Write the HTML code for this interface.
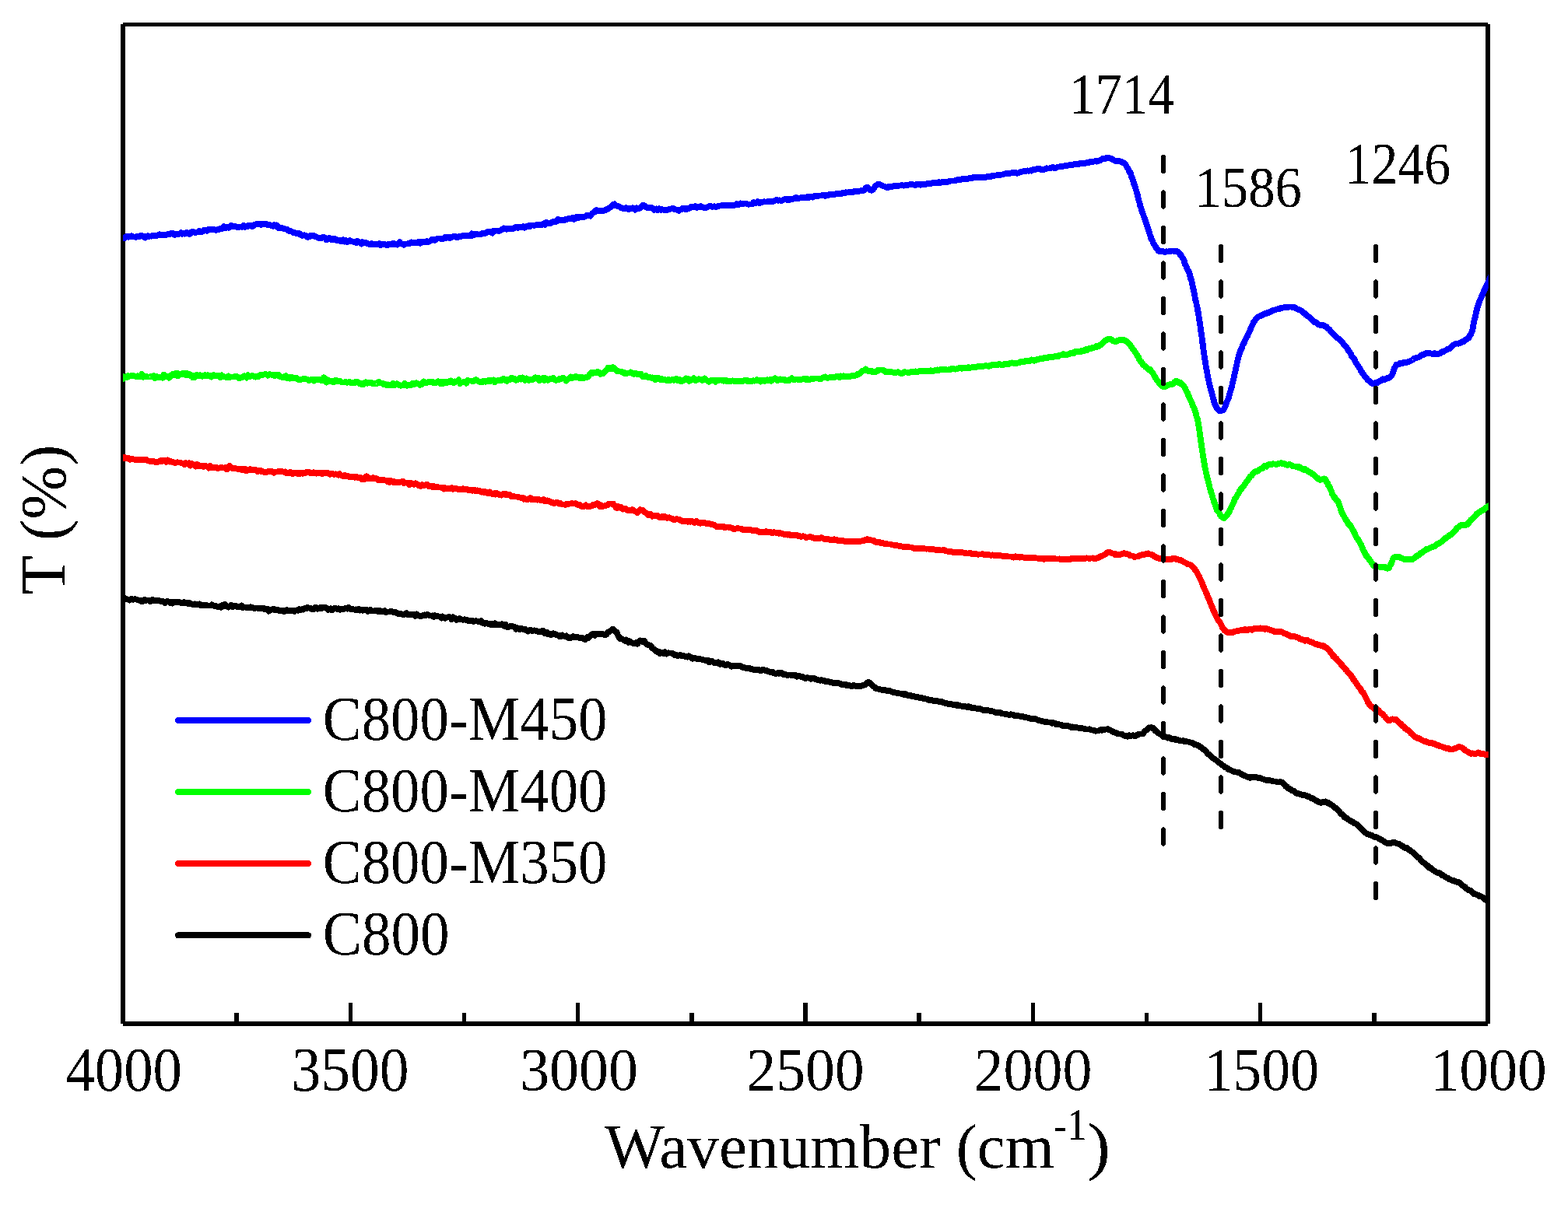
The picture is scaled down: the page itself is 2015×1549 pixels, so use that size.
<!DOCTYPE html>
<html><head><meta charset="utf-8"><title>FTIR spectra</title>
<style>
html,body{margin:0;padding:0;background:#fff;}
body{width:2015px;height:1549px;overflow:hidden;}
svg{display:block;}
</style></head>
<body>
<svg width="2015" height="1549" viewBox="0 0 2015 1549" shape-rendering="crispEdges">
<rect x="0" y="0" width="2015" height="1549" fill="#fff"/>
<filter id="crisp" x="-5%" y="-20%" width="110%" height="140%"><feComponentTransfer><feFuncA type="discrete" tableValues="0 1"/></feComponentTransfer></filter>
<rect x="158" y="29" width="1754" height="5" fill="#000"/>
<rect x="158" y="1313" width="1754" height="6" fill="#000"/>
<rect x="155" y="31" width="6" height="1285" fill="#000"/>
<rect x="1909" y="31" width="6" height="1285" fill="#000"/>
<rect x="1763" y="1302" width="5.6" height="12" fill="#000"/>
<rect x="1617.1" y="1289" width="5.2" height="25" fill="#000"/>
<rect x="1470.7" y="1302" width="5.6" height="12" fill="#000"/>
<rect x="1324.7" y="1289" width="5.2" height="25" fill="#000"/>
<rect x="1178.4" y="1302" width="5.6" height="12" fill="#000"/>
<rect x="1032.4" y="1289" width="5.2" height="25" fill="#000"/>
<rect x="886" y="1302" width="5.6" height="12" fill="#000"/>
<rect x="740.1" y="1289" width="5.2" height="25" fill="#000"/>
<rect x="593.7" y="1302" width="5.6" height="12" fill="#000"/>
<rect x="447.7" y="1289" width="5.2" height="25" fill="#000"/>
<rect x="301.4" y="1302" width="5.6" height="12" fill="#000"/>
<clipPath id="plotclip"><rect x="158" y="0" width="1754.7" height="1549"/></clipPath>
<g clip-path="url(#plotclip)">
<path d="M155 768.6 L158 769 L159.1 769.5 L160.3 769 L161.8 769.7 L163.3 770.5 L165 770.5 L166.8 771.6 L168.7 770 L170.7 770.7 L172.7 770.3 L174.8 770.4 L176.2 770.9 L177.7 771.4 L179.2 771.8 L180.8 772 L182.5 773.5 L184.1 772.8 L185.8 770.8 L187.6 771.9 L189.3 771.5 L191 771.6 L192.8 773.1 L194.5 772.3 L196.2 770.8 L197.9 772.4 L199.6 772.4 L201.3 771.7 L203 771.9 L204.7 772.3 L206.5 773 L208.3 772.9 L210.1 773.4 L211.8 775 L213.6 773.4 L215.3 773.1 L217 773.7 L218.6 774.9 L220.2 773.8 L221.6 775.4 L223.1 773.6 L224.4 773.5 L226.7 774.3 L228.7 773.8 L230.5 773.9 L232.1 774.7 L233.6 775 L235.1 774.6 L236.6 774.2 L238.1 775.5 L239.7 775.2 L241.1 774.9 L242.4 776.3 L243.7 775.1 L245.2 776.1 L247 776.9 L249.3 776.8 L250.6 776.4 L251.9 777.2 L253.4 776.7 L254.9 776.7 L256.6 776.4 L258.2 778.3 L260 777.4 L261.7 778.6 L263.5 778.3 L265.3 777.9 L267.1 778.6 L268.9 778.5 L270.7 778.5 L272.4 777.3 L274.1 778.3 L275.8 779.3 L277.4 779.2 L279.1 779.6 L280.7 780.2 L282.4 779.4 L284 780.6 L285.7 778.1 L287.3 778.6 L289 776.9 L290.6 779.3 L292.3 779.3 L293.9 780.6 L295.6 779.2 L297.2 777.7 L298.9 780.1 L300.6 778.6 L302.2 778.4 L303.9 779.3 L305.5 780.2 L307.2 779.5 L308.8 780.1 L310.5 778.6 L312.1 781.3 L313.8 780.5 L315.4 780.5 L317.1 781 L318.7 780.9 L320.4 781 L322 780.2 L323.7 780.8 L325.4 781.4 L327 782.2 L328.7 781.5 L330.3 781.6 L332 782 L333.6 782.3 L335.3 782.2 L336.9 782 L338.6 781.8 L340.2 783.2 L341.9 783 L343.5 782.8 L345.2 785.6 L346.8 784.2 L348.5 784 L350.2 783.5 L351.8 782.6 L353.5 784.3 L355.1 783.8 L356.8 783.9 L358.4 784.8 L360.1 785.1 L361.7 784.7 L363.4 784.5 L365 786.2 L366.7 785.4 L368.3 784 L370 785.2 L371.6 784.9 L373.3 784.8 L374.9 785.2 L376.6 784.8 L378.2 786 L379.9 784.7 L381.5 784.3 L383.1 784.7 L384.8 783.2 L386.4 784 L388 783.1 L389.7 783.7 L391.4 782 L393 782.6 L394.7 780.9 L396.4 781.4 L398.1 781.8 L399.7 782.2 L401.4 783.4 L403 783.6 L404.7 781.1 L406.4 781 L408.1 782.7 L409.8 782.4 L411.4 780.9 L413.1 782.1 L414.8 781.1 L416.5 781.2 L418.2 780.9 L419.9 781.7 L421.5 783.9 L423.2 782.9 L424.8 782.3 L426.5 784.4 L428.2 782.4 L429.9 782.3 L431.5 782.2 L433.2 782.7 L434.9 782.3 L436.5 783.7 L438.1 782.6 L439.8 783.1 L441.4 782.9 L443 782.1 L444.7 781.9 L446.3 782.6 L448 781 L449.6 782.6 L451.3 783.1 L452.9 783.3 L454.6 783.3 L456.2 783.8 L457.9 783.4 L459.5 784.3 L461.2 782.7 L462.8 784.6 L464.5 783.7 L466.1 784.7 L467.8 784.3 L469.4 784.3 L471.1 784.1 L472.7 785.9 L474.4 784.4 L476.1 784.1 L477.7 785.2 L479.4 785.6 L481 785.5 L482.7 784.7 L484.4 784.9 L486 786.2 L487.7 784.9 L489.3 786 L491 786.4 L492.7 786.1 L494.3 785 L496 787.4 L497.6 786.5 L499.3 786.5 L501 786.2 L502.6 785.9 L504.3 786.5 L505.9 787.2 L507.6 786.7 L509.2 787.6 L510.9 788.8 L512.5 788.7 L514.2 788.5 L515.8 789.5 L517.5 789.9 L519.1 790.1 L520.8 789 L522.4 788.1 L524.1 790.1 L525.8 790.1 L527.4 789.8 L529.1 790.5 L530.7 790 L532.4 789.9 L534 791.8 L535.7 789.6 L537.3 791.1 L539 791.6 L540.6 792.4 L542.3 791.4 L543.9 791.5 L545.6 790.4 L547.2 791.1 L548.9 789.6 L550.6 790.6 L552.2 791.4 L553.9 791.6 L555.5 791.4 L557.2 792.8 L558.8 791 L560.5 792.2 L562.1 792.1 L563.8 792.6 L565.4 792.8 L567.1 794.5 L568.7 792.6 L570.4 794.3 L572 794.8 L573.7 793.9 L575.4 793.4 L577 793 L578.7 793.4 L580.3 796 L582 793.4 L583.6 795.1 L585.3 794.7 L586.9 796.9 L588.6 796.3 L590.2 795 L591.9 795.6 L593.5 796.5 L595.2 796.8 L596.8 796.2 L598.5 796.8 L600.2 797 L601.8 798 L603.5 798.2 L605.1 798.3 L606.8 797.9 L608.4 799.1 L610.1 798.4 L611.7 798.2 L613.4 798.7 L615 799.1 L616.7 799.3 L618.3 798.3 L620 800.9 L621.6 801 L623.3 801.8 L624.9 800.8 L626.6 801.7 L628.2 801.6 L629.9 801.7 L631.5 803.3 L633.1 802 L634.8 802.9 L636.4 801.4 L638 803.2 L639.7 803.2 L641.4 802.7 L643 803.2 L644.7 802.3 L646.4 803.2 L648.1 804.6 L649.7 802.9 L651.4 805.7 L653 806.4 L654.7 805.4 L656.4 804.8 L658.1 805 L659.8 805.4 L661.5 806.1 L663.1 808.8 L664.8 807 L666.5 808.3 L668.2 809.2 L669.9 807.9 L671.5 808.4 L673.2 809.4 L674.8 808.8 L676.5 810.4 L678.2 811.6 L679.9 810.3 L681.5 809.6 L683.2 810.7 L684.9 810.9 L686.5 810.3 L688.1 810.8 L689.8 811.2 L691.4 811.8 L693 812.6 L694.7 811.7 L696.3 811 L698 810.8 L699.6 813.8 L701.3 812.8 L702.9 812.8 L704.6 815.4 L706.2 815.1 L707.9 816.2 L709.5 814.8 L711.2 814.3 L712.8 814.6 L714.5 815.9 L716.1 816.3 L717.8 816.6 L719.4 818.4 L721.1 818.2 L722.7 816.5 L724.4 817.5 L726.1 818.1 L727.8 817.3 L729.6 819.8 L731.4 819.4 L733.2 820 L735.1 818.6 L736.9 818.1 L738.6 819.6 L740.4 819.3 L742.1 819.1 L743.7 819.6 L745.3 820 L746.7 820.1 L748.1 819.8 L749.3 820.3 L751.9 822.2 L753.8 820.8 L755.4 818.7 L756.7 819.8 L758.1 817.6 L759.6 815.9 L761.3 815.5 L763 814.6 L764.7 816.8 L766.4 815.2 L768 814.5 L769.5 815 L771.7 815.5 L773.8 815 L775.8 815.6 L777.4 816.1 L779.4 815.6 L781 812.8 L782.2 812.8 L783.6 811.5 L785.1 810.6 L786.4 809.2 L788 808.6 L789.5 810.9 L791 812.1 L792 812.2 L793 813.4 L793.9 816 L795 818.7 L796.1 818.8 L797.2 821.3 L798.4 820.9 L800 821.6 L801.3 822.4 L802.7 823.7 L804.3 822.5 L805.9 824.2 L807.6 825.9 L809.2 824.4 L810.8 825.7 L812.5 826.5 L814.3 827.5 L816 827.6 L817.6 826.3 L819.1 827.6 L821.1 824.9 L822.9 823.4 L824.7 824.7 L826.5 824.6 L827.9 823.8 L829.3 826.2 L830.8 827.6 L832.3 828.9 L834 829.4 L835.2 829.5 L836.4 830.1 L837.7 832.3 L839.1 833.7 L840.4 834.6 L841.9 835.6 L843.4 837.6 L844.9 837.1 L846.5 837.7 L848 840.1 L849.6 838.8 L851.3 838.7 L853 840 L854.8 838.3 L856.8 840.6 L858.8 839.3 L860.2 839.5 L861.8 839.4 L863.4 839.9 L865 840.3 L866.7 841.9 L868.4 841.7 L870.1 842.9 L871.9 843 L873.6 841.8 L875.3 842.8 L877 842.7 L878.7 843.1 L880.3 843.8 L881.9 844.3 L883.5 844.7 L885.1 843.2 L886.6 844.5 L888.2 844.8 L889.8 846.7 L891.4 845.9 L893.1 846.1 L894.8 846.4 L896.6 847.3 L898.5 846.5 L900 847.3 L901.5 847.7 L903.1 848.2 L904.7 848.4 L906.3 848.6 L908 849.4 L909.6 848.9 L911.3 851.1 L913 850.8 L914.8 849.9 L916.5 851 L918.2 852.3 L919.9 852.2 L921.5 852.4 L923.2 851.4 L924.8 853.8 L926.5 853.7 L928.2 852.6 L929.9 853.5 L931.5 855.1 L933.2 854.9 L934.8 853.9 L936.5 854.4 L938.1 855.2 L939.8 856.7 L941.4 856 L943 856.3 L944.7 855.9 L946.3 856.2 L947.9 855.8 L949.6 855.8 L951.3 855.9 L952.9 856.6 L954.6 858.1 L956.2 857.8 L957.9 858.7 L959.5 858.8 L961.2 858.7 L962.8 858.5 L964.5 860.2 L966.1 860.1 L967.8 860.4 L969.4 861.4 L971.1 861.2 L972.7 860.7 L974.4 860.9 L976.1 861.3 L977.7 862.5 L979.4 861.2 L981 860.7 L982.7 861.6 L984.4 862.3 L986 862.3 L987.7 863.4 L989.3 863.7 L991 863.6 L992.7 863.9 L994.3 865.2 L996 865.7 L997.6 865.9 L999.3 865 L1001 865.9 L1002.6 865 L1004.3 864.7 L1005.9 866.7 L1007.6 866.9 L1009.2 867 L1010.9 867.6 L1012.5 868 L1014.2 867.5 L1015.8 867.6 L1017.5 868 L1019.1 868.4 L1020.8 868.4 L1022.4 867.8 L1024.1 869.8 L1025.8 868.8 L1027.4 869 L1029.1 869.8 L1030.7 869.9 L1032.4 870.5 L1034 871.8 L1035.7 871.8 L1037.3 871.1 L1039 871.6 L1040.6 871.8 L1042.3 872.7 L1043.9 872.2 L1045.6 872.3 L1047.2 872.2 L1048.9 873.5 L1050.6 873.9 L1052.2 874.4 L1053.9 874.8 L1055.5 874.2 L1057.2 874.7 L1058.8 874.7 L1060.5 876 L1062.1 876.4 L1063.8 875.7 L1065.4 876.7 L1067.1 876.9 L1068.7 877.2 L1070.4 877.8 L1072 877.5 L1073.7 877.8 L1075.4 878 L1077.1 878.3 L1078.9 878.4 L1080.7 879.6 L1082.5 879.9 L1084.4 879.8 L1086.2 879.5 L1087.9 881.3 L1089.7 880.9 L1091.4 881.2 L1093 881.6 L1094.5 882.3 L1096 881.7 L1097.3 880.9 L1098.5 881.7 L1101.5 882.2 L1103.6 882 L1105.3 882.6 L1106.6 881.7 L1108 881.6 L1110.1 880.5 L1111.6 880.2 L1113 878.8 L1114.6 877.7 L1116 876.6 L1117.1 877.3 L1118.2 878.8 L1119.5 879.4 L1120.9 880.9 L1122.4 882.5 L1124 883.4 L1125.3 884.8 L1126.7 885.4 L1129.5 885.6 L1130.7 886.5 L1132 886.4 L1133.4 887 L1135 887.6 L1136.6 887.1 L1138.4 887.4 L1140.2 888.1 L1142.1 888.4 L1144 888.3 L1146.1 889.5 L1148.1 889.9 L1149.5 890.2 L1150.9 890.5 L1152.4 891 L1153.9 890.8 L1155.4 891.4 L1157 891.5 L1158.6 891.8 L1160.2 892 L1161.9 893.1 L1163.5 892.2 L1165.2 892.9 L1166.8 893.9 L1168.5 894 L1170.1 894.1 L1171.7 895.1 L1173.3 894.8 L1174.8 895.2 L1176.5 895.9 L1178.2 895.9 L1179.9 896.2 L1181.5 896.8 L1183.2 897.6 L1184.9 897.2 L1186.5 898 L1188.1 898.2 L1189.8 898.4 L1191.4 898.4 L1193 899.8 L1194.7 899.9 L1196.3 900.1 L1198 900.2 L1199.6 901.2 L1201.3 900.8 L1202.9 900.8 L1204.6 901.2 L1206.2 901.8 L1207.9 902.4 L1209.5 901.8 L1211.2 902.9 L1212.8 903.3 L1214.5 904 L1216.1 903.8 L1217.8 904.8 L1219.4 905.4 L1221.1 904.8 L1222.7 905 L1224.4 905.8 L1226.1 906.3 L1227.7 906.1 L1229.4 906.8 L1231 906.1 L1232.7 907.1 L1234.4 907.4 L1236 907.8 L1237.7 908 L1239.3 908.3 L1241 908.2 L1242.7 909.1 L1244.3 908.1 L1246 909.1 L1247.6 909.2 L1249.3 910.4 L1251 909.7 L1252.6 910.3 L1254.3 910.6 L1255.9 911.2 L1257.6 911.3 L1259.2 911.1 L1260.9 911.7 L1262.5 912.6 L1264.2 912.9 L1265.8 912.6 L1267.5 912.6 L1269.1 912.8 L1270.8 913.5 L1272.4 913.9 L1274.1 914.1 L1275.8 914.4 L1277.4 914.9 L1279.1 915.7 L1280.7 916 L1282.4 915.7 L1284 916.3 L1285.7 916.3 L1287.3 917.1 L1289 917.4 L1290.6 917.6 L1292.3 918.4 L1293.9 918.3 L1295.6 918.5 L1297.2 919 L1298.9 918.3 L1300.6 918.7 L1302.2 919.1 L1303.9 919.9 L1305.5 920 L1307.2 919.7 L1308.8 920.2 L1310.5 920.7 L1312.1 921 L1313.8 921.4 L1315.4 921.3 L1317.1 922.2 L1318.7 922.1 L1320.4 922.7 L1322 923 L1323.7 923.4 L1325.4 924.5 L1327 924.2 L1328.7 924.4 L1330.3 923.9 L1332 924.7 L1333.6 925.6 L1335.3 925.8 L1336.9 926.6 L1338.6 926.6 L1340.2 927.3 L1341.9 927.5 L1343.5 928.1 L1345.2 927.9 L1346.8 928.6 L1348.5 928.5 L1350.2 928.6 L1351.8 929.7 L1353.5 929.1 L1355.1 929.5 L1356.8 930.9 L1358.4 930.8 L1360.1 931.1 L1361.7 931.4 L1363.4 931.6 L1365 932.7 L1366.7 932.5 L1368.3 933.2 L1370 933 L1371.6 933 L1373.3 933.4 L1375 933.8 L1376.7 935.1 L1378.4 934.4 L1380.2 934.9 L1382 934.4 L1383.7 935.4 L1385.5 935.5 L1387.2 936 L1388.9 936.2 L1390.6 936.2 L1392.2 936.6 L1393.8 936.9 L1395.3 937.5 L1396.8 937.4 L1398.1 937.5 L1400.2 937.3 L1402 938.4 L1403.8 938.5 L1405.3 938.4 L1406.8 939.4 L1408.3 939.7 L1409.6 939.5 L1411 939.5 L1412.4 939 L1414.1 938.3 L1415.8 938.8 L1417.3 937.8 L1418.8 938.1 L1420.3 937.4 L1421.9 937.4 L1423.6 937.2 L1425 937.9 L1426.4 938.6 L1427.8 939.1 L1429.2 940.1 L1430.7 941 L1432.2 941.5 L1433.8 941.7 L1435.5 943.2 L1437.2 943.4 L1438.7 943.5 L1440.4 943.5 L1442.1 943.8 L1443.9 945.4 L1445.7 946.1 L1447.5 946.2 L1449.3 946.7 L1451 945.3 L1452.7 946.2 L1454.3 945.5 L1455.8 945.3 L1457.7 946 L1459.4 946 L1461 945 L1462.5 944.2 L1463.9 943.6 L1465.3 943.6 L1466.7 943.5 L1468.2 943.5 L1469.6 942.1 L1471 940.4 L1472.4 939 L1473.7 938.2 L1475.1 937.3 L1476.5 935.4 L1477.9 935.6 L1479.4 935.2 L1480.6 936.1 L1481.9 935.8 L1483.1 937.5 L1484.4 938.9 L1485.7 940.2 L1487.1 941.5 L1488.5 942.2 L1489.9 943.2 L1491.4 943.8 L1493 945 L1494.4 945.4 L1495.8 946.5 L1497.3 947.2 L1498.9 947.4 L1500.4 948.6 L1502 948 L1503.7 948.6 L1505.3 950 L1506.9 949.8 L1508.5 950.5 L1510.1 949.6 L1511.7 951.4 L1513.4 951.2 L1515.2 951.5 L1516.9 952.5 L1518.7 952.5 L1520.5 952.1 L1522.3 953.4 L1524 953 L1525.7 953.4 L1527.3 953.6 L1528.8 954.1 L1530.3 954.5 L1532.1 955 L1533.8 955.5 L1535.4 957.2 L1536.9 957.2 L1538.3 957.8 L1539.7 958 L1541.2 959.7 L1542.7 960.3 L1543.9 961 L1545.2 961.7 L1546.4 963.3 L1547.7 963.6 L1548.9 965.1 L1550.1 966.5 L1551.4 968.1 L1552.6 969.3 L1553.9 969.8 L1555.1 971.6 L1556.5 972.5 L1557.9 973.5 L1559.2 974.8 L1560.6 975.7 L1562 976.6 L1563.4 977.6 L1564.7 979 L1566.1 979.9 L1567.5 980.9 L1568.9 981.6 L1570.3 983.3 L1571.6 984 L1573 984.7 L1574.4 986.3 L1575.8 986.5 L1577.1 987.5 L1578.5 989 L1579.9 989.4 L1581.5 990.1 L1583 990.7 L1584.6 991.4 L1586.1 992 L1587.7 992.6 L1589.2 992.5 L1590.8 993 L1592.3 993 L1593.8 994.1 L1595.4 995.2 L1597 995.9 L1598.5 997.1 L1600 997.3 L1601.6 998.1 L1603.1 998.9 L1604.7 998.6 L1606.4 999.8 L1608.1 999 L1609.7 999.3 L1611.4 998.8 L1613.1 999.3 L1615 999.3 L1617.1 1000.3 L1618.6 999.5 L1620.2 1000.6 L1621.9 1001.2 L1623.7 1001.7 L1625.5 1002.3 L1627.3 1002.8 L1629.1 1002.5 L1630.9 1003.5 L1632.6 1003.4 L1634.2 1003.7 L1635.7 1004.2 L1637.9 1004.5 L1639.9 1004.7 L1641.8 1005.6 L1643.6 1005.5 L1645.2 1004.9 L1646.7 1005.5 L1648.1 1006.1 L1649.6 1008.1 L1650.5 1008.6 L1651.3 1009.4 L1652.3 1011 L1653.9 1011.3 L1655.1 1013.4 L1656.4 1013.8 L1657.9 1014.4 L1659.5 1015.9 L1661.2 1016.3 L1662.9 1017 L1664.6 1018.6 L1666.2 1020 L1667.8 1019.9 L1669.3 1020.5 L1670.9 1020.9 L1672.4 1021.6 L1674 1021.7 L1675.5 1022.2 L1677.1 1022.2 L1678.6 1022.8 L1680.2 1023.7 L1681.7 1023.5 L1683.3 1024.9 L1684.9 1026.2 L1686.5 1026.2 L1688.1 1027.1 L1689.7 1028.2 L1691.3 1029.1 L1692.8 1029.4 L1694.2 1030.7 L1695.6 1031.3 L1697.4 1031.8 L1699.1 1031.6 L1700.6 1030.8 L1702.1 1030.6 L1703.7 1030.4 L1705.3 1032 L1706.6 1031.6 L1707.9 1032.6 L1709.2 1033.8 L1710.6 1034.2 L1712 1035.3 L1713.4 1036.5 L1714.9 1038.3 L1716.4 1038.6 L1717.6 1040 L1718.8 1041.2 L1720 1042.5 L1721.2 1043.2 L1722.5 1045.1 L1723.8 1046.4 L1725.1 1047.1 L1726.4 1048.2 L1727.7 1050.6 L1729 1051 L1730.3 1051.5 L1731.7 1053.2 L1733.1 1053.6 L1734.6 1054.8 L1736 1055.9 L1737.4 1056.2 L1738.8 1056.6 L1740.2 1058.6 L1741.6 1058.4 L1742.9 1059.1 L1744.2 1060.4 L1745.5 1061.7 L1746.7 1062.7 L1747.9 1063.5 L1749 1065.3 L1750.1 1065.8 L1751.3 1067 L1752.5 1068.7 L1753.8 1070 L1755.3 1070.9 L1756.6 1071.8 L1758.1 1072.3 L1759.6 1073.2 L1761.2 1073.3 L1762.8 1073.8 L1764.5 1074.9 L1766.1 1075.8 L1767.7 1075.9 L1769.2 1076.3 L1770.7 1077.1 L1772 1078.2 L1773.9 1078.9 L1775.6 1079.8 L1777.2 1080.8 L1778.7 1081.8 L1780.2 1083 L1781.6 1083.4 L1783.1 1084.1 L1784.8 1084.2 L1786.3 1083.8 L1787.8 1083.7 L1789.4 1083.4 L1791 1082.5 L1792.9 1083.4 L1794.3 1083.9 L1795.8 1084.4 L1797.3 1084.7 L1799 1085.6 L1800.6 1087 L1802.2 1087.4 L1803.8 1088.9 L1805.4 1089.4 L1806.8 1090.4 L1808.3 1090 L1809.6 1091.9 L1810.9 1092.7 L1812.2 1092.8 L1813.5 1094.5 L1814.8 1095.1 L1816.3 1095.9 L1817.9 1098.1 L1818.9 1099.2 L1820 1100.1 L1821.2 1101.1 L1822.3 1102.4 L1823.6 1102.5 L1824.8 1104.2 L1826.1 1106.1 L1827.4 1107.2 L1828.6 1108.3 L1829.9 1109.3 L1831.1 1110.5 L1832.3 1111.4 L1833.5 1112.7 L1834.6 1112.6 L1836.1 1115 L1837.5 1116 L1839 1115.7 L1840.3 1117.5 L1841.7 1118.6 L1843 1119.2 L1844.3 1120.3 L1845.7 1121.1 L1847 1121.8 L1848.4 1121.7 L1849.9 1122.2 L1851.5 1123.6 L1853 1125.3 L1854.6 1125.2 L1856.1 1126.5 L1857.7 1127.4 L1859.2 1128.4 L1860.8 1128.6 L1862.3 1130.1 L1863.8 1130.6 L1865.4 1131.6 L1866.9 1131.8 L1868.5 1132.2 L1870 1133 L1871.6 1133.7 L1873.1 1134 L1874.7 1134.2 L1876.2 1135.3 L1877.5 1136.4 L1878.7 1137.3 L1880 1138.6 L1881.3 1139.5 L1882.5 1139.9 L1883.8 1141.9 L1885 1142.5 L1886.3 1143.5 L1887.6 1144.3 L1888.8 1144.7 L1890.1 1145.1 L1891.7 1147.1 L1893.3 1148.3 L1894.9 1149.5 L1896.6 1149.4 L1898.2 1150.3 L1899.8 1150.9 L1901.3 1152.1 L1902.7 1152.3 L1904 1152.9 L1905.8 1153.7 L1907.4 1155.2 L1908.9 1156.7 L1910.2 1156.9 L1911.4 1157.8 L1912.5 1159.3 L1914.8 1160.1 L1916 1161.1" fill="none" stroke="#000" stroke-width="7.8" stroke-linejoin="round" stroke-linecap="butt" shape-rendering="crispEdges"/>
<path d="M155 587.6 L158 588.1 L159.1 589.2 L160.3 587.8 L161.8 589.3 L163.3 588.7 L165 588.8 L166.8 590.8 L168.7 590 L170.7 590 L172.7 590.8 L174.8 591.5 L176.2 590.9 L177.8 591.4 L179.4 590.5 L181 591 L182.7 591.2 L184.5 590.8 L186.3 590.8 L188.1 590.9 L189.8 592.2 L191.6 592.7 L193.3 592.9 L195 593.4 L196.6 592.5 L198.1 593.4 L199.6 593.9 L201.6 594.5 L203.5 593.3 L205.3 593.4 L207 592 L208.6 592.8 L210.2 591.5 L211.8 591.7 L213.5 593.7 L215.2 591.5 L217 593.5 L218.5 593.7 L220.1 593.3 L221.7 594 L223.2 594.4 L224.8 595.2 L226.4 594.5 L228.1 594.3 L229.7 594.6 L231.4 594.5 L233.2 595.5 L235 595.4 L236.8 597 L238.3 595.2 L239.9 595.6 L241.5 595.9 L243.1 595.3 L244.7 598.5 L246.4 595.9 L248.1 597.2 L249.8 597.5 L251.5 599.4 L253.2 597.1 L254.9 599.2 L256.6 598.4 L258.3 598.8 L260 598.6 L261.7 599.8 L263.4 598.7 L265 599.5 L266.7 600.1 L268.3 601.6 L270 598.6 L271.6 601.3 L273.3 601.5 L274.9 600.5 L276.6 601 L278.2 600.6 L279.9 602.4 L281.5 601.6 L283.2 601.3 L284.8 601.3 L286.5 601.4 L288.2 601.5 L289.8 601.1 L291.5 603.4 L293.1 600.7 L294.8 598.9 L296.4 601.4 L298.1 601.9 L299.7 602.5 L301.4 602.2 L303 602.2 L304.7 602.7 L306.3 603.4 L308 602.4 L309.6 602.4 L311.3 604.4 L313 603.8 L314.6 602.6 L316.3 605.2 L317.9 604.6 L319.6 603.6 L321.2 603.1 L322.9 604.4 L324.5 603.9 L326.2 603.9 L327.8 603.8 L329.5 604.6 L331.1 606.3 L332.8 605.5 L334.4 604.7 L336.1 606.3 L337.8 606.2 L339.5 606.9 L341.3 607.4 L343 606.4 L344.8 606.3 L346.6 606.4 L348.4 605.5 L350.1 606.8 L351.9 607.7 L353.6 606.9 L355.2 606.5 L356.7 606.4 L358.2 606 L359.6 605.9 L360.9 606.3 L363.2 606.3 L365 606.8 L366.4 606.3 L367.8 608 L369.2 608.4 L371 607.7 L373.3 606.7 L374.6 608.3 L376 609.5 L377.4 608.2 L379 608.1 L380.6 608 L382.2 608.9 L383.9 607.7 L385.7 608.9 L387.4 608 L389.2 608.8 L391 608.1 L392.8 607.7 L394.6 606.6 L396.4 607 L398.1 607.4 L399.7 608.3 L401.4 608.1 L403 607.3 L404.7 608.1 L406.4 608.7 L408.1 608 L409.8 607.7 L411.4 607.7 L413.1 608.7 L414.8 608.8 L416.5 607.7 L418.2 608.6 L419.9 608.2 L421.5 608 L423.2 609.6 L424.8 609.7 L426.5 608.7 L428.2 609.3 L429.9 609.9 L431.5 609.3 L433.2 609.8 L434.9 610.8 L436.5 609.2 L438.1 610.8 L439.8 611.7 L441.4 611.9 L443 610.7 L444.7 612 L446.3 611.5 L448 612.7 L449.6 613.1 L451.3 613.1 L452.9 612.4 L454.6 612.5 L456.2 613.8 L457.9 612.8 L459.5 613.8 L461.2 614.1 L462.8 613.7 L464.5 615.8 L466.1 614.5 L467.8 616 L469.4 613.1 L471.1 612.4 L472.7 615 L474.4 615.4 L476.1 614.9 L477.7 615.1 L479.4 613.9 L481 614.8 L482.7 614.9 L484.4 615.7 L486 617 L487.7 616.7 L489.3 617.1 L491 616.6 L492.7 616.8 L494.3 617.5 L496 617.5 L497.6 618.9 L499.3 617.7 L501 619.8 L502.6 618.1 L504.3 619.6 L505.9 618.6 L507.6 620.5 L509.2 619.8 L510.9 620.1 L512.5 620.5 L514.2 619.7 L515.8 619.4 L517.5 618.7 L519.1 621.3 L520.8 620.5 L522.4 620.5 L524.1 621.2 L525.8 623.1 L527.4 620.6 L529.1 621.9 L530.7 621.8 L532.4 622.7 L534 621.2 L535.7 622.2 L537.3 623.5 L539 624.5 L540.6 624.9 L542.3 623.2 L543.9 623.8 L545.6 623.9 L547.2 623.1 L548.9 623 L550.6 624.9 L552.2 625.1 L553.9 624.9 L555.5 626.1 L557.2 624.8 L558.8 625.9 L560.5 625.8 L562.1 625.9 L563.8 626.5 L565.4 626.5 L567.1 626.8 L568.7 627 L570.4 628.5 L572 627.1 L573.7 628 L575.4 628 L577 627.4 L578.7 628.2 L580.3 627.2 L582 628.7 L583.6 627.5 L585.3 627.6 L586.9 628.4 L588.6 629.1 L590.2 629.4 L591.9 629.5 L593.5 628.8 L595.2 628.2 L596.8 629.4 L598.5 629.6 L600.2 628.8 L601.8 630.4 L603.5 630.3 L605.1 629.5 L606.8 630.7 L608.4 629.7 L610.1 630.1 L611.7 631.4 L613.4 630.4 L615 631.6 L616.7 631 L618.3 632.7 L620 632.1 L621.6 632.9 L623.3 631.9 L624.9 632.8 L626.6 634.2 L628.2 634.2 L629.9 632.5 L631.5 634.5 L633.1 635 L634.8 634.2 L636.4 635.6 L638 634.1 L639.7 634.7 L641.4 635.9 L643 636.5 L644.7 636.7 L646.4 635 L648.1 634.4 L649.7 636.1 L651.4 635.3 L653 636.3 L654.7 635.9 L656.4 637.9 L658 638.3 L659.7 638.4 L661.4 638.3 L663.1 638.5 L664.8 638.6 L666.5 639.3 L668.2 639.6 L669.9 640.1 L671.5 639.7 L673.2 641.7 L674.8 641 L676.5 642 L678.3 642.3 L680 640.8 L681.8 640.1 L683.5 642.5 L685.2 641.8 L687 642.3 L688.7 642.2 L690.4 642.7 L692 642 L693.7 642.8 L695.3 642.9 L696.9 643.5 L698.5 641.9 L700 644.3 L701.8 644.6 L703.6 643.3 L705.4 644 L707 645 L708.7 646 L710.3 645.9 L711.9 647.2 L713.5 646.6 L715.1 645.9 L716.7 646.2 L718.3 647.6 L719.9 646.9 L721.6 648.1 L723.3 648.5 L724.9 648.4 L726.7 648.8 L728.4 647.9 L730 648 L731.7 647.6 L733.4 647.5 L735 646.8 L736.6 647.5 L738.2 647.4 L739.7 647.2 L741.5 648.6 L743.2 649.3 L745 649.1 L746.7 650.6 L748.3 650.8 L749.9 651.2 L751.5 650.2 L752.9 649.4 L754.3 651 L755.6 651.1 L757.8 651.2 L759.6 650.4 L761.1 650.3 L762.7 648.5 L764.5 648.8 L766 647.9 L767.5 646.9 L769.1 648.7 L770.7 651.1 L772.3 649.4 L773.9 651.5 L775.4 650.6 L777.1 650.3 L778.8 649.9 L780.5 649.2 L782.2 647.4 L783.8 647.5 L785.4 647.6 L786.9 648.3 L788.4 647.8 L789.9 650.3 L791.3 651.8 L792.8 653.3 L794.3 651.2 L795.8 652.5 L797.3 651.6 L798.9 653.6 L800.5 654.6 L802.2 653.9 L804.2 653.8 L805.7 655.4 L807.3 656.4 L809.1 655.8 L810.9 656.4 L812.7 655 L814.5 656.4 L816.2 657.5 L817.8 657.9 L819.1 659.1 L821.4 657 L823 655.2 L824.5 656.4 L826.1 655.9 L827.5 657.1 L828.9 658.5 L830.3 659.7 L832 661.5 L834 662.5 L835.3 660.6 L836.7 661.7 L838.3 663.7 L839.9 662.5 L841.6 663.5 L843.3 663.1 L845.1 663 L847 664.7 L848.9 664.9 L850.4 664.2 L851.9 665.1 L853.5 663.9 L855.1 664.3 L856.8 665.8 L858.5 665.7 L860.2 665.2 L861.9 666.4 L863.6 666.8 L865.3 667.8 L867 668 L868.7 667.4 L870.4 667.3 L872.1 667.8 L873.9 668.1 L875.6 669.6 L877.4 670.3 L879.2 670.5 L880.9 670.1 L882.6 669.8 L884.2 670.7 L885.8 670.3 L887.2 670.7 L888.6 669.7 L890.6 670.5 L892.1 671.9 L893.4 670.5 L894.6 669.9 L896 670.7 L897.7 672.2 L900 672.7 L901.3 671.7 L902.6 671.7 L904.1 672.1 L905.7 672 L907.3 672.9 L909 673.1 L910.7 672.7 L912.4 673.6 L914.2 674.3 L916 674.3 L917.8 674.5 L919.6 676.1 L921.4 677.4 L923.1 676.5 L924.8 676.4 L926.5 677.2 L928.1 677.1 L929.8 676.9 L931.4 678.4 L933.1 677.4 L934.7 677.5 L936.4 677.8 L938 677.8 L939.7 678.4 L941.3 679.1 L943 680 L944.6 679.8 L946.3 679.5 L947.9 678.9 L949.6 679.6 L951.3 679.4 L952.9 680 L954.6 681 L956.2 680.9 L957.9 680.8 L959.5 680.6 L961.2 681.2 L962.8 681.5 L964.5 681.2 L966.1 681.5 L967.8 682.5 L969.4 681.5 L971.1 682.1 L972.7 682 L974.4 683.6 L976.1 683.6 L977.7 683.6 L979.4 683.7 L981 683.8 L982.7 683.9 L984.4 683 L986 684 L987.7 684.5 L989.3 683.6 L991 684.8 L992.7 685.1 L994.3 684.1 L996 684.6 L997.6 685 L999.3 685.1 L1001 685.8 L1002.6 685.2 L1004.3 685.8 L1005.9 686.4 L1007.6 687 L1009.2 687 L1010.9 687 L1012.5 687.7 L1014.2 686.7 L1015.8 688.2 L1017.5 688.1 L1019.1 687.8 L1020.8 688.3 L1022.4 687.9 L1024.1 687.9 L1025.8 688.9 L1027.4 689 L1029.1 689.9 L1030.7 689.5 L1032.4 689.3 L1034 689.6 L1035.7 691 L1037.3 690.6 L1039 690.4 L1040.6 690.3 L1042.3 690.3 L1043.9 690.9 L1045.6 691.4 L1047.2 692 L1048.9 692.3 L1050.6 692 L1052.2 691.7 L1053.9 691.7 L1055.5 691.2 L1057.2 691.8 L1058.8 692.7 L1060.5 692.7 L1062.1 693.2 L1063.8 692.7 L1065.4 693.7 L1067.1 693.8 L1068.7 693.8 L1070.4 694.2 L1072 693.2 L1073.7 693.9 L1075.4 694 L1077.1 695.3 L1078.8 694.9 L1080.5 694.8 L1082.2 695.6 L1084 695.1 L1085.7 696.2 L1087.4 695.6 L1089.1 695.9 L1090.8 695.8 L1092.4 696.5 L1094 695.6 L1095.6 696.6 L1097.1 696.2 L1098.5 696.5 L1100.4 695.9 L1102.2 696.2 L1103.9 696 L1105.5 695.8 L1107.1 695.4 L1108.7 695.1 L1110.2 694.9 L1111.6 694.1 L1113.1 693.4 L1114.5 693.1 L1115.9 693.9 L1117.7 693.7 L1119.5 694.6 L1121.1 694.7 L1122.6 694.8 L1124.2 696.1 L1125.8 697.2 L1127.6 697 L1129.5 697 L1131 697.3 L1132.5 698.3 L1134 698.1 L1135.6 698.3 L1137.2 699.1 L1138.8 699.1 L1140.5 699.4 L1142.3 699.4 L1144.2 699.6 L1146.1 700.2 L1148.1 700.6 L1149.5 701 L1151.1 700.8 L1152.6 701.3 L1154.2 701.6 L1155.9 701.7 L1157.6 702.2 L1159.3 702.6 L1161.1 702.6 L1162.8 702.7 L1164.6 702.5 L1166.3 703.2 L1168.1 703.3 L1169.8 703.5 L1171.5 703.5 L1173.2 704.2 L1174.8 705.3 L1176.5 704.8 L1178.2 704.7 L1179.9 704.9 L1181.5 704.7 L1183.2 705 L1184.9 704.8 L1186.5 704.9 L1188.1 705.4 L1189.8 705.6 L1191.4 705.6 L1193 705.4 L1194.7 705.9 L1196.3 705.6 L1198 706.4 L1199.6 706.2 L1201.3 706.5 L1202.9 707 L1204.6 707.2 L1206.2 706.6 L1207.9 707.1 L1209.5 707.6 L1211.2 707.3 L1212.8 706.9 L1214.5 707.9 L1216.1 708.3 L1217.8 708.8 L1219.4 708.9 L1221.1 709.1 L1222.7 709.3 L1224.4 710 L1226.1 709.9 L1227.7 710 L1229.4 709.8 L1231 710.5 L1232.7 710.2 L1234.4 710.6 L1236 709.7 L1237.7 710.6 L1239.3 710.7 L1241 710.7 L1242.7 711.5 L1244.3 711.4 L1246 711.3 L1247.6 711.2 L1249.3 712.3 L1251 712.2 L1252.6 712.2 L1254.3 711.8 L1255.9 712.6 L1257.6 712.6 L1259.2 712.4 L1260.9 712.5 L1262.5 712.1 L1264.2 713 L1265.8 712.6 L1267.5 713.4 L1269.1 713.2 L1270.8 713.2 L1272.4 713.7 L1274.1 713.8 L1275.8 713.4 L1277.4 713.9 L1279.1 714.3 L1280.7 714.2 L1282.4 713.8 L1284 714.3 L1285.7 714.2 L1287.3 714.5 L1289 714.9 L1290.6 715 L1292.3 715.1 L1293.9 714.6 L1295.6 715.4 L1297.2 715.4 L1298.9 715.4 L1300.6 715.7 L1302.2 716.6 L1303.9 715.5 L1305.5 715.3 L1307.2 716.2 L1308.8 715.8 L1310.5 716.7 L1312.1 716 L1313.8 716.1 L1315.4 716.7 L1317.1 716.9 L1318.7 716.8 L1320.4 716.9 L1322 716.7 L1323.7 716.6 L1325.4 716.8 L1327 717.5 L1328.7 717.4 L1330.3 717.2 L1332 717.4 L1333.6 717.7 L1335.3 718 L1336.9 717.6 L1338.6 717.6 L1340.2 717.9 L1341.9 718.9 L1343.5 718.2 L1345.2 718.5 L1346.8 717.5 L1348.5 718.3 L1350.2 717.6 L1351.8 717.7 L1353.5 717.9 L1355.1 718.2 L1356.8 718.4 L1358.4 718.5 L1360.1 718.5 L1361.7 718.3 L1363.4 719.5 L1365 718.8 L1366.7 718.8 L1368.3 719.4 L1370 719.1 L1371.6 718.8 L1373.3 718.7 L1375 719.3 L1376.7 718.2 L1378.4 718 L1380.2 718.4 L1382 717.5 L1383.7 717.8 L1385.5 718.6 L1387.2 718.1 L1388.9 718.2 L1390.6 718.4 L1392.2 717.6 L1393.8 718 L1395.3 717.7 L1396.8 717.4 L1398.1 717.6 L1400.4 717.7 L1402.5 717.5 L1404.3 717.4 L1406 717.9 L1407.6 718.1 L1409.2 717.7 L1410.8 717.1 L1412.4 716.3 L1414 715.7 L1415.6 714.7 L1417.2 714.2 L1418.7 713.5 L1420.2 712.5 L1421.7 711.2 L1423.3 710.3 L1424.8 710.1 L1426.4 710.2 L1428 710.7 L1429.7 711.6 L1431.3 711.6 L1432.9 713.2 L1434.4 712.4 L1435.9 712.7 L1437.2 713 L1439.2 712.9 L1440.8 712.2 L1442.4 712.2 L1444.7 711 L1446 711.7 L1447.5 711.7 L1449.1 712.4 L1450.7 712.6 L1452.5 714.5 L1454.3 714.4 L1456.1 714.6 L1457.9 716.1 L1459.6 715.6 L1461.2 715.5 L1462.8 715 L1464.5 714.3 L1466.2 713.4 L1467.9 713.3 L1469.6 713.5 L1471.2 712.7 L1472.8 712 L1474.3 712.2 L1475.7 711.4 L1477.5 712.5 L1479.2 712.7 L1480.7 713.1 L1482.2 714.5 L1483.7 715.4 L1485.2 716 L1486.8 716.8 L1488.5 717.6 L1490.3 718.3 L1492.1 717.9 L1493.9 717.4 L1495.7 719.4 L1497.5 719 L1499.3 719 L1501.1 719.4 L1502.9 718.9 L1504.6 719.2 L1506.4 718.1 L1508.2 718.2 L1509.9 717.8 L1511.7 719 L1513.3 718.9 L1514.9 719.8 L1516.5 720.6 L1518.1 720.3 L1519.6 721.3 L1521.2 722.5 L1522.7 723 L1524.1 723.7 L1525.7 724.8 L1527.1 725.5 L1528.6 725.6 L1530 726.4 L1531.3 727.6 L1532.7 728.5 L1534 729.8 L1534.9 730.4 L1535.9 732.7 L1536.8 733.5 L1537.7 735.1 L1538.6 736.6 L1539.5 738.2 L1540.3 739.9 L1541.1 741.2 L1541.9 743.2 L1542.7 745.1 L1543.4 746.3 L1544.1 747.9 L1544.7 749.3 L1545.4 750.6 L1546 752.8 L1546.5 753.4 L1547.1 755.2 L1547.7 757 L1548.3 758.2 L1548.9 759.1 L1549.5 760.5 L1550.1 763 L1550.8 763.7 L1551.4 765.4 L1552 767.2 L1552.6 768.5 L1553.2 769.2 L1553.9 770.5 L1554.5 772.7 L1555.1 774 L1555.7 775.7 L1556.3 777.4 L1557 779.1 L1557.6 780 L1558.2 781.3 L1558.8 783.8 L1559.4 784.9 L1560.1 786.1 L1560.7 787.1 L1561.3 789.3 L1562.2 790.6 L1563.1 792.3 L1564 794.5 L1564.8 796.1 L1565.7 797.7 L1566.6 798.5 L1567.5 799.2 L1568.4 801.3 L1569.3 803.3 L1570.2 804.8 L1571 806.9 L1571.9 808.2 L1572.8 808.9 L1573.7 810.4 L1575.2 811.6 L1576.8 812.3 L1578.4 813.5 L1579.9 812.8 L1581.7 813.6 L1583.6 813.3 L1586.1 811.5 L1587.5 811.7 L1589 811.5 L1590.7 810.8 L1592.4 810.7 L1594.3 810.2 L1596.3 810.3 L1598.5 809.8 L1600 808.9 L1601.6 809.9 L1603.4 809.8 L1605.2 809 L1607.1 809.3 L1609 809.7 L1610.8 808.2 L1612.6 808.2 L1614.2 808.1 L1615.8 808.4 L1617.1 808 L1619.5 807.3 L1621.2 808.1 L1622.7 807.6 L1624.1 808 L1625.8 808.9 L1627.4 808.1 L1628.9 808.4 L1630.5 809.4 L1632.2 809.6 L1633.9 810.3 L1635.7 810.6 L1637.4 812.1 L1639.3 811.8 L1641.2 811.9 L1643.1 812.1 L1645 812.6 L1646.7 812.1 L1648.1 812.9 L1650.2 814.2 L1651.6 814.3 L1653.9 815.6 L1655.1 816 L1656.4 816.2 L1657.9 817.8 L1659.5 817.7 L1661.2 817.9 L1662.9 817.9 L1664.6 818.6 L1666.2 818.9 L1667.8 819.4 L1669.3 820 L1670.9 821.5 L1672.4 821.7 L1674 822.2 L1675.5 822.6 L1677.1 823.7 L1678.6 822.9 L1680.2 823 L1681.7 824 L1683.3 824.7 L1684.9 825.2 L1686.5 825.5 L1688.1 826.6 L1689.7 827.7 L1691.3 827.8 L1692.8 828.1 L1694.2 829.1 L1695.6 829.2 L1697.5 829.7 L1699.2 830.5 L1700.9 830.1 L1702.4 832.1 L1703.9 832.3 L1705.3 833.3 L1706.6 834.4 L1707.7 835.6 L1708.7 836.2 L1709.8 838.8 L1710.9 840.1 L1712.3 841.6 L1713.2 843.8 L1714.2 843.3 L1715.2 845 L1716.3 845.9 L1717.4 846.5 L1718.6 849.1 L1719.7 849.2 L1720.9 851 L1722.2 852.4 L1723.4 854 L1724.4 854.7 L1725.4 856.7 L1726.4 857.6 L1727.5 858.2 L1728.5 859.3 L1729.6 861.2 L1730.7 862 L1731.8 863.9 L1732.9 865.3 L1734 866.3 L1735.1 867 L1736.2 868.5 L1737.3 870.6 L1738.3 871.7 L1739.3 874 L1740.4 874.6 L1741.4 876.2 L1742.4 877.7 L1743.5 879 L1744.5 880.4 L1745.5 882.2 L1746.5 883.2 L1747.5 884.7 L1748.5 885.9 L1749.4 888.1 L1750.3 888.9 L1751.2 890.4 L1752.2 890.4 L1753 892.6 L1753.9 894.1 L1754.7 896 L1755.5 897.4 L1756.2 898.7 L1757 900.4 L1757.7 902.2 L1758.5 903.8 L1759.3 904.4 L1760.1 906.1 L1760.9 906.5 L1762.2 908.2 L1763.5 908.7 L1764.9 910.2 L1766.3 911.5 L1767.7 911.2 L1769.1 912.3 L1770.5 912.2 L1772 913.4 L1773.2 915.7 L1774.5 916.1 L1775.8 917.5 L1777.1 918.1 L1778.4 920 L1779.7 921.1 L1781 923.1 L1782.2 923.7 L1783.4 925.8 L1784.5 925.3 L1786.4 926 L1787.9 924.7 L1789.3 924.4 L1790.9 924.7 L1792.9 924.8 L1794 924.9 L1795.1 926.3 L1796.3 927.6 L1797.5 928.5 L1798.8 929.9 L1800.2 930.2 L1801.5 932.6 L1802.9 933.7 L1804.2 933.8 L1805.5 936.4 L1806.8 936.8 L1808.1 938.2 L1809.3 938.4 L1810.6 939.8 L1811.9 940.6 L1813.1 942.7 L1814.4 943.5 L1815.6 944.3 L1816.9 945.5 L1818.2 947.1 L1819.4 947.3 L1820.7 948.6 L1822.2 948.9 L1823.8 949.3 L1825.3 950.4 L1826.9 951.2 L1828.4 952 L1830 952.8 L1831.5 952.9 L1833.1 953.3 L1834.6 954.3 L1836.1 954.8 L1837.6 955.1 L1839.1 955.6 L1840.6 955.2 L1842.1 956.1 L1843.6 956.2 L1845.1 957.1 L1846.7 958.2 L1848.4 957.8 L1850 959.2 L1851.6 959.3 L1853.4 960 L1855.1 960.5 L1856.9 961.6 L1858.7 961.7 L1860.4 961.5 L1862.1 962.8 L1863.6 963.1 L1865.1 963.5 L1867 963.5 L1868.7 962.3 L1870.2 962 L1871.7 961.3 L1873.2 960.5 L1874.7 960.2 L1876.2 960.3 L1877.6 960.5 L1879 961.3 L1880.3 962.8 L1881.7 963.2 L1883.1 964.7 L1884.5 965.4 L1885.9 966.3 L1887.4 967.2 L1889.1 968 L1890.9 968.9 L1892.7 968.4 L1894.5 968.8 L1896.3 968.7 L1898.1 968.6 L1899.9 967.4 L1901.8 968.6 L1903.8 969 L1905.8 968.9 L1907.7 969.5 L1909.6 970.4 L1911.2 969.7 L1912.5 969.9 L1915 970.8 L1916 970.6" fill="none" stroke="#ff0000" stroke-width="7.8" stroke-linejoin="round" stroke-linecap="butt" shape-rendering="crispEdges"/>
<path d="M155 484.5 L158 486.9 L159 484.3 L160.1 484.8 L161.4 484.7 L162.8 485.3 L164.3 483.1 L166 483.7 L167.7 483.4 L169.4 483 L171.2 483.2 L173.1 483.5 L175 483.8 L176.8 483.2 L178.7 484.4 L180.5 483.7 L182.3 480.8 L184 484.7 L185.6 483.9 L187.2 483.4 L189 484.3 L190.8 484.6 L192.5 484.5 L194.3 483.6 L196 484.6 L197.7 483.1 L199.3 486 L201 483.9 L202.6 484.6 L204.3 485.1 L205.9 485.4 L207.4 485 L209 485.7 L210.5 481.5 L212 484.1 L213.8 484.4 L215.6 483.9 L217.4 485.6 L219.1 483 L220.8 483 L222.4 480.6 L224 482.2 L225.6 480.2 L227.2 479.6 L228.8 483.3 L230.3 482.2 L231.9 481.1 L233.6 481.2 L235.2 479.7 L236.9 480 L238.5 481.9 L240.1 479.9 L241.6 482.4 L243.2 481.1 L244.7 483.1 L246.2 482.4 L247.8 485.5 L249.3 485.4 L250.9 483.8 L252.5 481.9 L254.1 482.5 L255.6 483.2 L257.1 482.2 L258.7 483.1 L260.2 483.8 L261.9 482.7 L263.6 482 L265.4 483.2 L266.9 482.3 L268.4 483.5 L269.9 482.6 L271.5 484.6 L273.1 483.2 L274.7 482.2 L276.4 483.5 L278.1 483.1 L279.8 482.9 L281.4 483.9 L283.1 485.1 L284.8 482.4 L286.5 484.2 L288.2 484.4 L289.9 484.5 L291.7 485.5 L293.5 483.5 L295.3 485.1 L297.1 484.5 L298.9 484.6 L300.7 484.3 L302.4 484 L304.1 483.7 L305.8 484.5 L307.3 486.4 L308.8 485.6 L310.7 485.1 L312.5 484.6 L314 483.3 L315.5 484 L317 485.5 L318.5 482.1 L320 483.5 L321.8 483.9 L323.7 483 L325.2 483.3 L326.8 483.9 L328.5 484.7 L330.3 483.8 L332.1 483.9 L333.9 482.3 L335.8 482.4 L337.6 481.7 L339.4 481.6 L341.2 480.7 L342.9 481.7 L344.5 482.7 L346 481.2 L348 481.4 L349.7 482 L351.4 481.7 L352.9 482.9 L354.4 482.6 L355.9 481.4 L357.5 481.6 L359.1 483.7 L360.9 484.3 L362.4 485.1 L364 484.6 L365.7 484.7 L367.3 483.1 L369 486.1 L370.7 484.6 L372.4 486.5 L374.2 484.9 L376 485.3 L377.7 486.4 L379.5 486.2 L381.2 486 L382.9 487.8 L384.7 488.1 L386.6 488 L388.4 487.4 L390.3 486.9 L392.1 487.3 L393.8 487.4 L395.5 488.1 L397.1 489.1 L398.6 488.4 L400 487.6 L402.1 487.6 L403.6 489.4 L404.9 488.3 L406.2 488 L407.9 487.9 L410.5 488.3 L411.7 488 L413.1 489.1 L414.5 489.1 L416.1 485.4 L417.7 487.7 L419.4 491.6 L421.2 488.2 L423 489.2 L424.8 490.6 L426.6 489.9 L428.5 491.4 L430.3 489.2 L432.1 488.9 L433.8 490.2 L435.6 490 L437.2 489.7 L438.9 491.5 L440.6 491.6 L442.3 491.4 L443.9 491 L445.6 491.7 L447.3 491.5 L448.9 490.8 L450.5 492 L452.2 492.2 L453.8 491.9 L455.4 492.5 L457.1 490.8 L458.7 491.5 L460.4 491.3 L462 493.3 L463.7 492.9 L465.3 494.5 L467 494.3 L468.6 492.3 L470.3 491.3 L471.9 492.7 L473.6 492.3 L475.2 492.4 L476.9 491.6 L478.5 493.2 L480.2 493.1 L481.8 493.4 L483.5 493.5 L485.1 492.3 L486.8 490.7 L488.5 492.5 L490.1 492.6 L491.8 492.8 L493.4 494.4 L495.1 493.8 L496.8 495.4 L498.4 494.4 L500.1 494.8 L501.7 494.8 L503.4 495.2 L505.1 493.1 L506.7 495.2 L508.4 494.7 L510 493.4 L511.7 494.8 L513.4 494.8 L515 495.8 L516.7 495.4 L518.3 494.8 L520 492.6 L521.6 495.5 L523.3 495.8 L524.9 495.1 L526.6 494.5 L528.2 495.1 L529.9 493 L531.5 494.1 L533.2 493.5 L534.8 492.3 L536.5 493.4 L538.2 493.5 L539.8 494.9 L541.5 494.3 L543.1 491.4 L544.8 490.4 L546.4 492.1 L548.1 492.2 L549.7 491.3 L551.4 490.6 L553 491.6 L554.7 490.8 L556.3 491 L558 492.6 L559.6 492.2 L561.3 491 L563 490.3 L564.6 491.1 L566.3 493.2 L567.9 491.2 L569.6 493.1 L571.2 490.8 L572.9 490.9 L574.5 491.8 L576.2 490.4 L577.8 490.9 L579.5 489.5 L581.1 491.3 L582.8 492.1 L584.4 490.3 L586.1 490.8 L587.8 490.2 L589.4 488.2 L591.1 492.9 L592.7 491.6 L594.4 491.5 L596 490.9 L597.7 490.5 L599.3 492.7 L601 488.7 L602.6 489.4 L604.3 489.4 L605.9 489.6 L607.6 490.5 L609.2 489.2 L610.9 488.3 L612.6 488.3 L614.3 489.9 L616 490.7 L617.8 490.7 L619.6 491.5 L621.3 489.5 L623.1 490.6 L624.8 490.6 L626.5 489.6 L628.2 488.8 L629.8 490.4 L631.4 489 L632.9 489.1 L634.4 488.4 L635.7 491.1 L637.9 489.7 L639.8 488.9 L641.4 488.9 L642.9 488.8 L644.3 489.1 L645.9 487.2 L647.8 487.3 L650 488.9 L651.3 489.8 L652.8 487.7 L654.3 488.4 L655.9 487.8 L657.5 485.8 L659.2 487.4 L660.9 486.8 L662.6 488.7 L664.4 487.8 L666.1 487.8 L667.9 486.2 L669.7 487.5 L671.4 485.6 L673.1 487.4 L674.8 488.9 L676.5 486.5 L678.1 488.1 L679.8 489 L681.4 487.5 L683.1 488.5 L684.7 487.7 L686.4 486.9 L688 485.2 L689.7 485.8 L691.3 485.5 L693 489.4 L694.6 488 L696.3 487.3 L697.9 485.9 L699.6 488.8 L701.3 486.4 L702.9 488.6 L704.6 488.7 L706.2 487.6 L707.9 486.6 L709.5 487.1 L711.2 485.8 L712.8 487.6 L714.5 489 L716.1 488.5 L717.8 488.5 L719.4 486.6 L721.1 487.3 L722.7 486 L724.4 486.2 L726.1 487.4 L727.8 489.5 L729.6 487.3 L731.4 486.7 L733.2 484.5 L735 486.1 L736.7 485.2 L738.5 484.4 L740.2 484 L741.9 485.5 L743.6 485.1 L745.1 486 L746.6 485.1 L748 485 L749.3 486.3 L751.5 485.5 L753.5 484.8 L755.2 484.8 L756.8 483 L758.1 480.8 L759.4 480.1 L760.6 478.7 L761.7 480 L763.8 478.6 L765.1 478.8 L766.6 479 L768.2 477.7 L769.9 479.1 L771.8 480.9 L774.1 479.9 L775.4 480 L776.9 478.1 L778.4 476.1 L780 475.5 L781.6 472.8 L783.3 474.2 L784.9 472.8 L786.5 474.3 L788 472.2 L789.3 473.7 L790.6 475 L791.9 475.6 L793.3 477.2 L794.9 477.2 L796.8 477.6 L798.9 477.8 L800.2 478.8 L801.7 478.9 L803.3 480.2 L804.9 479.9 L806.7 479.6 L808.5 479.5 L810.4 478.4 L812.2 479.8 L814.1 480.9 L815.9 479.4 L817.7 480.2 L819.3 481.4 L820.9 480.4 L822.4 481.2 L823.7 480.9 L825.8 484.1 L827.4 484.1 L828.7 484.4 L829.9 483.1 L831.1 484.6 L832.4 484.6 L834 485.6 L836.1 485.2 L837.4 486 L838.8 485.4 L840.3 486.5 L841.8 488.3 L843.4 485.8 L845.1 485.4 L846.9 487.3 L848.6 488.1 L850.4 487.2 L852.2 488.1 L854 488.2 L855.7 488.5 L857.5 489.4 L859.2 487.8 L860.9 488.8 L862.6 488.6 L864.3 487.8 L866 488.8 L867.8 487.4 L869.6 487 L871.3 489.3 L873.1 487.8 L874.8 490.1 L876.5 490 L878.2 488.5 L879.8 487.9 L881.4 486.6 L882.9 488.3 L884.4 487.2 L885.7 489.9 L887.9 487.5 L889.8 488.5 L891.4 486.1 L892.9 487.6 L894.3 489.3 L895.9 488 L897.8 487.3 L900 487.5 L901.3 488.3 L902.8 489 L904.3 488.2 L905.9 486.5 L907.5 488.3 L909.2 489.4 L910.9 490.8 L912.6 489.3 L914.4 489.1 L916.1 488.6 L917.9 489.6 L919.7 490.8 L921.4 488.7 L923.1 489.3 L924.8 488.5 L926.5 488.7 L928.1 489.2 L929.8 489.8 L931.4 488.9 L933.1 489.1 L934.7 490.5 L936.4 490.1 L938 490.1 L939.7 489.9 L941.3 489.4 L943 489.7 L944.6 489.9 L946.3 489.5 L947.9 490.2 L949.6 489.6 L951.3 490.2 L952.9 489.6 L954.6 490.1 L956.2 489.1 L957.9 489 L959.5 488.6 L961.2 490.4 L962.8 490.2 L964.5 490 L966.1 490.3 L967.8 489.2 L969.4 489.7 L971.1 489.4 L972.7 488.2 L974.4 489.2 L976.1 488.9 L977.7 490.5 L979.4 489.1 L981 488.8 L982.7 489.9 L984.4 489.3 L986 488.1 L987.7 488.9 L989.3 488.2 L991 489.8 L992.7 488 L994.3 487.7 L996 486.2 L997.6 487.3 L999.3 489.2 L1001 488.2 L1002.6 487.3 L1004.3 488 L1005.9 487.7 L1007.6 487.8 L1009.2 489.5 L1010.9 489.5 L1012.5 489.2 L1014.2 489.1 L1015.8 487.3 L1017.5 486.3 L1019.1 487.8 L1020.8 487.9 L1022.4 487.6 L1024.1 487.4 L1025.8 487.9 L1027.4 487.9 L1029.1 487.6 L1030.7 487.7 L1032.4 487.2 L1034 487 L1035.7 488 L1037.3 487.1 L1039 488.3 L1040.6 487.7 L1042.3 487.1 L1043.9 487.6 L1045.6 486.6 L1047.2 486.5 L1048.9 486.4 L1050.6 486.4 L1052.2 486.8 L1053.9 487.6 L1055.5 486.7 L1057.2 485.4 L1058.8 485.2 L1060.5 484.4 L1062.1 485.6 L1063.8 485.9 L1065.4 485.4 L1067.1 485.2 L1068.7 485.2 L1070.4 485 L1072 485 L1073.7 484.6 L1075.4 483.8 L1077.1 484.6 L1078.9 485 L1080.6 483.3 L1082.4 483.8 L1084.2 483.3 L1086 484.1 L1087.7 483.8 L1089.5 484.6 L1091.2 484.5 L1092.8 483.6 L1094.3 483.2 L1095.8 483 L1097.2 483.4 L1098.5 482.4 L1100.6 482.4 L1102.5 480.6 L1104.1 480.8 L1105.5 479.6 L1106.8 477.7 L1108.1 476.8 L1109.4 476.5 L1110.9 476.2 L1112.7 474.5 L1114.6 476 L1116.5 477.4 L1118.3 477 L1120.1 476.9 L1121.8 478.5 L1123.3 478.4 L1125.3 478 L1126.7 477.5 L1128.4 475.8 L1130.8 475.6 L1132.1 475.5 L1133.5 475.6 L1135 476.3 L1136.6 476.4 L1138.2 478.1 L1140 478.2 L1141.9 478.6 L1143.9 477.6 L1145.9 478.4 L1148.1 478.7 L1149.5 478.9 L1151 479.1 L1152.6 478.5 L1154.2 478.3 L1155.8 479.2 L1157.5 480.1 L1159.2 480.1 L1161 478.8 L1162.7 478.2 L1164.5 478.5 L1166.3 478.7 L1168 479.3 L1169.8 478.3 L1171.5 477.8 L1173.2 478.6 L1174.8 477.7 L1176.5 477.4 L1178.2 478 L1179.9 477.7 L1181.5 477.1 L1183.2 477.3 L1184.9 477.2 L1186.5 477.2 L1188.1 476.9 L1189.8 477.4 L1191.4 476.9 L1193 476.6 L1194.7 477.3 L1196.3 476.3 L1198 476.9 L1199.6 476.9 L1201.3 476.3 L1202.9 476.3 L1204.6 475.3 L1206.2 475.9 L1207.9 475.3 L1209.5 475.1 L1211.2 475.5 L1212.8 475 L1214.5 475.2 L1216.1 475.3 L1217.8 475.5 L1219.4 475.1 L1221.1 475.2 L1222.7 474.2 L1224.4 474 L1226.1 474.4 L1227.7 474.7 L1229.4 474.2 L1231 473.5 L1232.7 473 L1234.4 472.8 L1236 473.7 L1237.7 472.7 L1239.3 472.8 L1241 473.1 L1242.7 473 L1244.3 472.2 L1246 473.4 L1247.6 472.5 L1249.3 472.3 L1251 472.4 L1252.6 471.7 L1254.3 472 L1255.9 471.5 L1257.6 470.8 L1259.2 470.6 L1260.9 471.1 L1262.5 470.9 L1264.2 470.6 L1265.8 470.3 L1267.5 470.2 L1269.1 470.6 L1270.8 470.7 L1272.4 469.9 L1274.1 469.8 L1275.8 468.6 L1277.4 468.6 L1279.1 468.7 L1280.7 468.5 L1282.4 469.2 L1284 467.7 L1285.7 468.7 L1287.3 468.8 L1289 469.5 L1290.6 468.1 L1292.3 468.2 L1293.9 468.6 L1295.6 468.2 L1297.2 467 L1298.9 466.9 L1300.6 466.3 L1302.2 466.7 L1303.9 466.9 L1305.5 467.1 L1307.2 466.5 L1308.8 466.4 L1310.5 466.2 L1312.1 465 L1313.8 465.3 L1315.4 465.4 L1317.1 464.5 L1318.7 463.8 L1320.4 464 L1322 463.8 L1323.7 463.9 L1325.4 462.4 L1327 462.6 L1328.7 463.7 L1330.3 463.4 L1332 462.4 L1333.6 461.9 L1335.3 461.6 L1336.9 461 L1338.6 461 L1340.2 461 L1341.9 460.1 L1343.5 460.4 L1345.2 460.4 L1346.8 459.3 L1348.5 459.3 L1350.2 458.5 L1351.8 459 L1353.5 458.9 L1355.1 458.2 L1356.8 458.2 L1358.4 458.1 L1360.1 458 L1361.7 456.6 L1363.4 456.6 L1365 455.7 L1366.7 455 L1368.3 456.2 L1370 456 L1371.6 455.9 L1373.3 455.4 L1375 454.3 L1376.7 454.1 L1378.4 453.4 L1380.2 453.9 L1382 451.8 L1383.8 452.5 L1385.5 451.8 L1387.3 452 L1389 452 L1390.7 450.7 L1392.3 451.2 L1393.9 450.8 L1395.4 449 L1396.8 450.2 L1398.1 448.5 L1400.3 447.6 L1402.3 448.2 L1404.1 447 L1405.7 446.8 L1407.2 446.2 L1408.6 445.1 L1410.1 445.8 L1411.7 445.2 L1413.2 443.7 L1414.6 443.4 L1416.1 441.7 L1417.5 440.6 L1419 439.2 L1420.4 437.6 L1421.7 437.1 L1423.1 436.2 L1424.3 436.4 L1426.3 436.2 L1428.1 436.3 L1429.9 438 L1431.6 438.4 L1433.6 439.5 L1435.2 438.4 L1436.8 437.8 L1438.5 437.1 L1440.3 437.1 L1442 436.7 L1443.7 436.7 L1445.3 438 L1446.5 438.3 L1447.7 438.4 L1448.8 439.8 L1450 440.7 L1451.1 442 L1452.2 443.4 L1453.3 444.9 L1454.4 446.7 L1455.4 448.3 L1456.4 449.2 L1457.4 450.1 L1458.3 452 L1459.3 453.5 L1460.2 455 L1461.1 456 L1462 458 L1462.9 458.7 L1463.8 461.6 L1464.8 463.1 L1465.9 464.6 L1466.9 465.2 L1468 467.1 L1469 469.1 L1470 469.7 L1471.1 470.3 L1472.1 471.8 L1473.5 472 L1475 474.4 L1476.4 475.2 L1477.8 475 L1479.2 476.9 L1480.5 478.5 L1481.4 479.6 L1482.3 481 L1483.1 483 L1484 484 L1484.8 486.1 L1485.6 486.9 L1486.4 488 L1487.2 489.4 L1488.5 490.8 L1489.8 493.2 L1491 494.1 L1492.4 495.7 L1494 496.5 L1495.5 497.4 L1497.2 497.4 L1498.9 495.8 L1500.7 495.2 L1502.4 494.6 L1504 493.9 L1505.8 494.3 L1507.5 493.2 L1509.1 491.4 L1510.7 489.9 L1512.4 490 L1513.8 490.7 L1515.2 492.1 L1516.6 491.6 L1518 493.9 L1519.4 494 L1520.8 496.4 L1521.6 496.8 L1522.3 498.2 L1523.1 498.6 L1523.8 501.3 L1524.6 502.8 L1525.3 503.8 L1526.1 504.8 L1526.9 507.4 L1527.6 509.4 L1528.4 510.5 L1529.2 513.2 L1529.8 514.3 L1530.3 515.1 L1530.9 516.5 L1531.5 517 L1532.1 519.9 L1532.8 521.8 L1533.4 522.7 L1534 523.5 L1534.6 525 L1535.2 527 L1535.8 528.3 L1536.3 530.5 L1536.9 531.7 L1537.4 534.2 L1537.9 536.3 L1538.4 537.2 L1538.7 538.3 L1539.1 538.6 L1539.4 541.4 L1539.7 543.3 L1539.9 544.3 L1540.2 546.8 L1540.5 547.7 L1540.7 548.8 L1541 551.4 L1541.2 553.1 L1541.4 553.4 L1541.7 555.5 L1541.9 557 L1542.1 559.2 L1542.4 561.2 L1542.6 562.6 L1542.8 564.5 L1543.1 566.6 L1543.3 567.7 L1543.5 568.7 L1543.8 570.3 L1544.1 572.9 L1544.3 575.1 L1544.6 575.9 L1544.8 577.6 L1545 578.6 L1545.3 580.2 L1545.5 582.6 L1545.7 583.6 L1546 585.5 L1546.2 587.1 L1546.5 589.2 L1546.7 590.4 L1547 591.8 L1547.2 593.2 L1547.5 594.7 L1547.8 597.1 L1548.1 599.4 L1548.3 599.2 L1548.7 601.8 L1549 602.6 L1549.3 604.2 L1549.6 606 L1550 607.6 L1550.4 609.3 L1550.8 610.9 L1551.2 613.8 L1551.6 614.1 L1552.1 615.9 L1552.5 617.6 L1552.9 619.8 L1553.4 620.9 L1553.8 623.1 L1554.3 624.9 L1554.7 627.6 L1555.2 628.7 L1555.6 629.8 L1556 631.3 L1556.5 633.7 L1556.9 634.3 L1557.3 635.2 L1557.6 636.5 L1558 637.8 L1558.6 640.7 L1559.2 641.8 L1559.8 643.7 L1560.3 645.7 L1560.9 646.8 L1561.4 648.9 L1561.9 649.9 L1562.4 651.6 L1562.9 652.9 L1563.4 654.6 L1564 656.1 L1565 656.7 L1565.9 658 L1567 659.7 L1568 662.1 L1569 663.6 L1570 664.4 L1571 665 L1572.6 666.1 L1574.1 665.4 L1575.7 663.7 L1577.4 661.7 L1578.1 659.5 L1578.8 659.5 L1579.6 658.8 L1580.3 656.4 L1581.1 654.3 L1581.9 653.4 L1582.7 650.9 L1583.5 649.3 L1584.3 648 L1585.1 646.1 L1585.8 645 L1586.6 642.1 L1587.4 640.1 L1588.2 640.1 L1589 638.8 L1589.7 637.3 L1590.5 635.5 L1591.3 634.3 L1592.1 633.2 L1592.8 631.1 L1593.6 630.4 L1594.6 628.5 L1595.5 628.5 L1596.5 626.5 L1597.5 625.1 L1598.5 624.2 L1599.4 623 L1600.4 621.8 L1601.3 619.8 L1602.3 618.7 L1603.3 617.7 L1604.3 616.1 L1605.3 614.7 L1606.3 613.1 L1607.3 612.2 L1608.4 611.7 L1609.7 609.3 L1611.1 607.8 L1612.6 606.7 L1614 605.5 L1615.4 605.9 L1616.8 605.6 L1618.4 603.9 L1620 602.6 L1621.5 602.4 L1623.1 601.5 L1624.6 599 L1626.1 599 L1627.7 599.7 L1629.2 597.9 L1630.8 596.9 L1632.3 596.4 L1634.2 597.2 L1636 596.3 L1637.9 596.5 L1640 597 L1641.5 596.4 L1643 596.2 L1644.6 595.5 L1646.3 595.2 L1648 596.4 L1649.7 595.5 L1651.3 596.7 L1652.9 597.3 L1654.5 597.8 L1656.2 597.3 L1657.9 597.2 L1659.6 598 L1661.3 599.2 L1663 599.4 L1664.6 599.7 L1666.3 599.9 L1668 600.9 L1669.7 600 L1671.3 600.8 L1673 602.8 L1674.5 603.2 L1675.9 603.9 L1677.4 603.2 L1678.8 604.2 L1680.3 605.2 L1681.7 606.2 L1683.2 607.7 L1684.6 607.8 L1685.9 608.9 L1687.3 609.6 L1688.7 610.9 L1690.1 612.4 L1691.4 613.6 L1692.8 615 L1694 614.8 L1695.2 616.4 L1696.2 617 L1698.6 616.3 L1700.3 616.2 L1702 615.4 L1703 616.2 L1703.9 617.9 L1704.9 620 L1705.9 620.9 L1706.8 623.5 L1707.8 625 L1708.5 625.7 L1709.2 628 L1710 629.4 L1710.7 630.7 L1711.4 632.6 L1712.1 635.1 L1712.9 636.3 L1713.6 637.3 L1714.6 639.3 L1715.6 639.6 L1716.5 641.5 L1717.5 643.2 L1718.5 643.4 L1719.5 644.8 L1720.1 646.2 L1720.7 647.9 L1721.2 649.3 L1721.8 651.2 L1722.4 652.4 L1723 654.7 L1723.6 656.6 L1724.1 658.1 L1724.7 659.1 L1725.3 661 L1726.3 661.8 L1727.2 663.7 L1728.2 665.6 L1729.2 667.8 L1730.1 668.5 L1731.1 670.3 L1732.1 672.3 L1733 673.8 L1734 675 L1735 674.9 L1735.9 676.6 L1736.9 678.3 L1737.6 679.7 L1738.4 681.1 L1739.1 682.2 L1739.8 683.8 L1740.5 684.6 L1741.3 687.1 L1742 688.5 L1742.7 689.5 L1743.7 692.2 L1744.6 693 L1745.6 694 L1746.6 696 L1747.5 697.6 L1748.5 699.4 L1749.2 700.5 L1750 702.5 L1750.7 703.9 L1751.4 706.1 L1752.1 707.5 L1752.8 708.5 L1753.6 709.8 L1754.3 712 L1755.3 714 L1756.2 714.2 L1757.2 716.4 L1758.2 717.4 L1759.1 718.8 L1760.1 719.5 L1761.2 720.9 L1762.1 722.8 L1763.2 724.4 L1764.4 726.1 L1765.9 727.5 L1767.3 728.1 L1769 729.4 L1770.8 728.4 L1772.6 728.6 L1774.4 729 L1776.1 729.4 L1777.6 728.7 L1779.7 728.9 L1781.5 730.2 L1783 730.7 L1784.5 730.3 L1785.4 729.4 L1786.2 726.9 L1787 726.3 L1787.7 724.1 L1788.4 723.5 L1789.2 721 L1790.2 718.1 L1791.1 717.2 L1792.2 716.3 L1794 715.8 L1795.3 715.8 L1796.8 715.9 L1798.4 715.8 L1800.2 717.1 L1802 717.9 L1803.8 718.4 L1805.5 719.3 L1807.1 719.4 L1808.9 718.6 L1810.6 718.9 L1812.1 718.7 L1813.7 718.6 L1815.4 719 L1817.2 717.4 L1818.4 717 L1819.7 714.8 L1821 715.3 L1822.3 713.7 L1823.7 713.1 L1825.1 711.3 L1826.5 710.6 L1827.8 710.1 L1829.1 708.9 L1830.4 708.1 L1831.9 706.8 L1833.4 705.9 L1834.9 705.8 L1836.3 705 L1837.7 704.5 L1839.1 703.5 L1840.6 702.9 L1842 702.7 L1843.5 702.4 L1844.9 700.7 L1846.3 699.6 L1847.8 699 L1849.2 698.6 L1850.7 697.4 L1852.2 696.8 L1853.6 695.2 L1854.9 693.8 L1856.2 692.3 L1857.5 692.6 L1858.8 691.6 L1860 690.2 L1861.3 689.5 L1862.6 687.8 L1863.9 687.7 L1865.2 686.8 L1866.4 685.9 L1867.6 683.9 L1868.8 683.4 L1870 682 L1871.2 681.1 L1872.4 678.2 L1873.6 678.1 L1874.7 677.4 L1875.8 675.8 L1876.8 675.6 L1879 674.6 L1880.8 675.6 L1882.6 675.2 L1884.6 674.5 L1885.6 673.1 L1886.7 673.7 L1887.8 671.3 L1889 669.7 L1890.1 668.3 L1891.3 667.4 L1892.5 666.1 L1893.6 665.1 L1894.7 664.5 L1896.1 663.1 L1897.4 660.6 L1898.8 660.1 L1900.1 658.9 L1901.4 658.4 L1902.7 657.2 L1904 656.8 L1905.5 655.3 L1907.1 655.2 L1908.6 652.9 L1910.1 652.9 L1911.4 652.2 L1912.5 650.8 L1914.8 648.9 L1916 648.9" fill="none" stroke="#00ff00" stroke-width="7.8" stroke-linejoin="round" stroke-linecap="butt" shape-rendering="crispEdges"/>
<path d="M155 305.4 L158 306.2 L159.1 306.5 L160.3 305.4 L161.8 304.5 L163.4 303.9 L165.1 304.7 L166.9 303.9 L168.8 303.3 L170.7 304.4 L172.6 304.5 L174.5 304.8 L176.4 303.6 L178.1 304 L179.8 303.9 L181.5 302.7 L183.2 304 L184.9 303.9 L186.5 305.5 L188.2 304 L189.8 303.3 L191.4 304.1 L193.1 303.4 L194.7 303.7 L196.3 302.6 L198 302.8 L199.6 303.3 L201.3 303.1 L202.9 302.5 L204.6 301.3 L206.2 302.1 L207.9 301.9 L209.5 302.2 L211.2 301.7 L212.9 302.2 L214.5 301.3 L216.2 301.2 L217.8 301.5 L219.5 300 L221.2 300.2 L222.8 300.1 L224.5 302.1 L226.1 300.8 L227.8 301.1 L229.4 301.1 L231 300.3 L232.7 299.1 L234.3 300.8 L236 300 L237.6 300.7 L239.3 299.1 L241 299.3 L242.6 300.6 L244.3 300.8 L245.9 298.5 L247.6 297.8 L249.3 298.5 L250.9 299 L252.6 298.5 L254.2 298.3 L255.9 297 L257.5 297.9 L259.2 298.3 L260.9 296.9 L262.5 295.7 L264.2 295.8 L265.8 296.8 L267.5 294.9 L269.1 295.6 L270.7 294.9 L272.4 295.2 L274 295 L275.7 295 L277.3 296 L279 295.2 L280.7 295.6 L282.3 294.3 L284 293.5 L285.6 293.9 L287.3 291.2 L288.9 292.7 L290.6 293 L292.3 291.8 L293.9 292.7 L295.6 291.9 L297.2 290.1 L298.9 291.4 L300.6 291 L302.3 291.2 L304.1 291.4 L305.9 292.5 L307.7 291.8 L309.4 291.5 L311.2 291.7 L312.8 290 L314.4 292 L316 290.5 L317.4 291.3 L318.7 290.1 L320.9 289.7 L322.7 289.8 L324.1 291.3 L325.5 290.3 L326.9 288.7 L328.6 288.5 L330.2 287.7 L332 288.3 L333.7 288 L335.5 289 L337.3 287.5 L339 288.1 L340.6 287.8 L342.5 287.9 L344 289 L345.6 288.8 L347.5 289.4 L350 290.5 L351.2 290.8 L352.5 289.2 L353.9 290.7 L355.4 289.5 L356.9 291 L358.5 293.3 L360.1 292.5 L361.8 292.6 L363.4 293.5 L365.1 294 L366.7 294.5 L368.3 294.4 L369.9 296.2 L371.4 296.9 L373 296.6 L374.5 297.4 L376 298.3 L377.5 299.2 L379 299.3 L380.6 300.1 L382.1 299.9 L383.6 299.6 L385.1 300.4 L386.6 302.2 L388.2 302.8 L389.7 302.6 L391.4 302.3 L393 303.1 L394.7 304.6 L396.3 304.8 L398 303.3 L399.6 303.7 L401.3 302.7 L403 302.9 L404.6 304.1 L406.3 304.3 L407.9 305.3 L409.6 305.9 L411.3 305.8 L412.9 306.4 L414.6 305.2 L416.2 304.7 L417.9 306.1 L419.5 308.3 L421.1 307.1 L422.8 305.8 L424.4 306.9 L426.1 308.2 L427.7 306.7 L429.4 308 L431.1 307.3 L432.7 308.9 L434.4 308.9 L436 308.7 L437.7 310.2 L439.4 308.7 L441 308.3 L442.7 310.5 L444.3 308.9 L446 311.2 L447.6 310 L449.3 309.1 L451 310 L452.6 310.4 L454.3 310.8 L455.9 310.8 L457.6 312 L459.2 309.7 L460.8 310.9 L462.5 311.5 L464.1 313.5 L465.8 311 L467.4 312 L469.1 311.7 L470.8 312.1 L472.4 313.3 L474.1 313.5 L475.7 314.4 L477.4 313.1 L479.1 313.5 L480.7 314.4 L482.4 314.4 L484 313.5 L485.7 314.5 L487.3 313.1 L489 315 L490.7 314.1 L492.3 313.8 L494 314.1 L495.6 314.6 L497.3 315.5 L498.9 314.1 L500.5 313.7 L502.2 314.4 L503.8 313.4 L505.5 312.5 L507.1 314.3 L508.8 313.7 L510.5 314.7 L512.1 313.1 L513.8 311.2 L515.4 313.3 L517.1 313.6 L518.8 314.7 L520.4 313.9 L522.1 313.5 L523.7 313.5 L525.4 312.6 L527 312.7 L528.7 311.4 L530.3 312.5 L532 311.6 L533.6 311.5 L535.2 312.3 L536.9 312.4 L538.5 310.8 L540.1 312.7 L541.8 310.8 L543.4 311.4 L545.1 311.4 L546.8 310.6 L548.5 310.2 L550.1 311.2 L551.7 310.4 L553.4 309.7 L555 307.5 L556.7 307.6 L558.4 308.9 L560 308.1 L561.7 306.7 L563.4 306.4 L565 306.4 L566.7 306.9 L568.3 306.6 L569.9 306.8 L571.6 305.2 L573.3 306.1 L575 304.9 L576.6 304.6 L578.3 306.1 L579.9 304.9 L581.5 304.3 L583.2 304 L584.8 303.6 L586.4 305 L588.1 304.9 L589.7 304.2 L591.4 303.5 L593 303.9 L594.7 303 L596.3 303.1 L598 302.9 L599.6 302.5 L601.3 303.5 L603 303.6 L604.6 303.2 L606.3 300.3 L607.9 302.6 L609.6 302 L611.3 300.8 L612.9 300.7 L614.6 301.5 L616.2 301.5 L617.9 301.1 L619.5 300.2 L621.1 299.8 L622.8 300.1 L624.4 299.3 L626.1 298.2 L627.7 298 L629.4 298.2 L631.1 298.3 L632.7 299.6 L634.4 296.7 L636 297.3 L637.7 296.6 L639.3 296.5 L641 297 L642.7 296.7 L644.3 295.3 L646 294.4 L647.6 293.3 L649.3 293.9 L651 294.9 L652.6 293.7 L654.3 294.1 L655.9 294 L657.6 293.6 L659.2 294 L660.8 293 L662.5 292.1 L664.1 291.5 L665.8 292.9 L667.4 292 L669.1 291.7 L670.8 292.4 L672.4 291.1 L674.1 292.7 L675.7 292 L677.4 290.7 L679.1 290.2 L680.7 291.3 L682.4 289.5 L684 289.4 L685.7 289.7 L687.3 289.7 L689 289.3 L690.7 289.4 L692.3 288.5 L694 288.4 L695.6 289.2 L697.3 288.7 L698.9 287.4 L700.5 288.7 L702.2 285.7 L703.8 286.6 L705.5 286.9 L707.1 287 L708.8 286.1 L710.5 285.2 L712.1 285.5 L713.8 284.7 L715.4 284.7 L717.1 281.8 L718.7 283.4 L720.4 282.5 L722.1 283.4 L723.7 283.2 L725.4 282.8 L727 281.6 L728.7 281.8 L730.4 281 L732.1 281.1 L733.9 280.7 L735.6 279.9 L737.4 281.9 L739.1 281.1 L740.9 278.6 L742.5 280.3 L744.1 278.7 L745.7 279.1 L747.1 278.8 L748.5 278.6 L750.6 278.8 L752.5 278 L754.2 276.6 L755.8 277.1 L757.2 277.1 L758.6 277.7 L759.9 275.7 L761.6 273.8 L763 273.1 L764.2 272.9 L765.5 270.8 L766.9 270.1 L768.9 270.9 L771 271 L773 271.6 L774.8 271 L776.5 270.4 L777.9 270.2 L779.8 269.3 L781 268.4 L782.3 268 L783.7 267 L785.2 265.9 L786.7 264.9 L788.2 263 L789.7 262.3 L791.3 264 L793 264.4 L794.6 265.5 L796.3 265.7 L797.9 267.3 L799.6 267.7 L801.3 267.7 L802.9 267.9 L804.6 267.2 L806.3 268.1 L807.9 269 L809.6 267.6 L811.3 268 L812.9 267.2 L814.6 268.4 L816.3 269.6 L817.9 267.3 L819.5 267.5 L821.3 268.3 L823 266.9 L824.7 265.8 L826.5 263.5 L828.4 264.4 L829.9 265.7 L831.4 266.8 L833 267 L834.6 266.8 L836.2 267.3 L837.8 267.1 L839.3 267.9 L840.9 269.9 L842.3 269.5 L843.7 268.5 L845.3 270.2 L847.1 268.3 L849.3 270 L850.6 269.2 L852 269.5 L853.6 269.8 L855.2 269.5 L856.9 270.2 L858.6 269.4 L860.3 268.9 L862.1 268.6 L863.9 267.9 L865.7 268.2 L867.4 269.4 L869.1 269.5 L870.8 269.8 L872.5 270.8 L874.3 269.4 L876.1 268.9 L877.9 267.4 L879.7 267.8 L881.4 269.4 L883.1 268.5 L884.7 267.7 L886.3 267.8 L887.7 266.2 L889 266.5 L891.2 266 L893 265.1 L894.6 266.6 L896 266.9 L897.4 266 L898.9 266 L900.4 265.1 L901.8 265.9 L903.2 266.3 L904.8 267 L906.6 267.1 L908.8 266.4 L910.1 265.8 L911.5 265.1 L913.1 265 L914.7 265.7 L916.4 265.7 L918.1 265.2 L919.9 266.1 L921.7 265.5 L923.5 264.8 L925.3 264.5 L927 264.5 L928.7 263.7 L930.3 263.4 L932 264.1 L933.6 263.6 L935.2 263.6 L936.9 264.4 L938.5 263.6 L940.1 264.2 L941.8 263.5 L943.4 264.1 L945.1 263.5 L946.8 262 L948.5 263.4 L950.1 262.7 L951.7 261.4 L953.4 262.3 L955 262.4 L956.7 261.5 L958.4 261.6 L960 262.2 L961.7 262.7 L963.4 262.6 L965 262.5 L966.7 262.3 L968.3 260.1 L969.9 260.5 L971.6 261 L973.3 259.3 L975 260.8 L976.6 261 L978.3 259.9 L979.9 259.8 L981.5 259.3 L983.2 259.5 L984.8 259.4 L986.4 259.3 L988.1 258.5 L989.7 259 L991.4 258.6 L993 259 L994.7 258.6 L996.3 257.5 L998 257.1 L999.7 257.7 L1001.3 257.4 L1003 257.8 L1004.6 257.9 L1006.3 257.3 L1007.9 256.2 L1009.6 256.1 L1011.3 256.9 L1012.9 256 L1014.6 256.8 L1016.2 256.2 L1017.9 256.3 L1019.5 255.4 L1021.1 255.5 L1022.8 253.9 L1024.4 254.8 L1026.1 255.3 L1027.7 254.5 L1029.4 254.2 L1031.1 254.4 L1032.7 254.3 L1034.4 253.8 L1036 254.2 L1037.7 253 L1039.3 254 L1041 252.8 L1042.7 252.7 L1044.3 253.6 L1046 252.5 L1047.6 251.8 L1049.3 252.4 L1051 251.9 L1052.6 251.5 L1054.3 251.5 L1055.9 251.3 L1057.6 251.1 L1059.2 250.8 L1060.8 251.9 L1062.5 250.9 L1064.1 251.3 L1065.8 250.1 L1067.4 250.6 L1069.1 249.8 L1070.8 249.8 L1072.4 250.1 L1074.1 249.5 L1075.7 248.6 L1077.4 248.9 L1079 248.9 L1080.7 249.1 L1082.4 248.3 L1084 248.3 L1085.7 248.2 L1087.3 247.3 L1089 247.6 L1090.7 247.2 L1092.5 247.5 L1094.3 247.1 L1096.2 246.9 L1098 245.8 L1099.8 246.3 L1101.6 246.1 L1103.3 245.7 L1104.9 245.6 L1106.4 245 L1107.7 245.3 L1108.8 245.3 L1111.1 244 L1112.2 242 L1112.8 241.5 L1113.8 240.8 L1115.1 240.8 L1116.5 242.8 L1118 243.9 L1119.7 244.8 L1120.8 244.6 L1122 243.7 L1123.3 241.6 L1124.6 239.2 L1126 238.2 L1127.3 237.7 L1128.7 236.7 L1130.3 237 L1131.9 237.5 L1133.6 238.6 L1135.3 239.3 L1136.9 239.6 L1138.6 240.4 L1140.1 241.5 L1141.5 240.4 L1142.8 239.5 L1144.3 240.6 L1146.2 240 L1148.5 239.2 L1149.8 239 L1151.2 238.5 L1152.7 239.2 L1154.3 239 L1156 238.5 L1157.7 238.4 L1159.5 238.2 L1161.3 238.7 L1163.1 238.1 L1164.8 238.5 L1166.6 237.6 L1168.3 237.4 L1169.9 237.3 L1171.6 237.2 L1173.3 237.3 L1175 237.7 L1176.6 237.8 L1178.3 236.9 L1179.9 237.6 L1181.5 237.2 L1183.2 237.7 L1184.8 237 L1186.4 236.5 L1188.1 237 L1189.7 236.9 L1191.4 236.3 L1193 236.3 L1194.7 236.2 L1196.3 236.1 L1198 235.1 L1199.6 235 L1201.3 235.3 L1203 235.3 L1204.6 234.8 L1206.3 234.1 L1207.9 235 L1209.6 234.4 L1211.3 233.8 L1212.9 234.5 L1214.6 234.3 L1216.2 234.1 L1217.9 233.8 L1219.5 233.4 L1221.1 232.5 L1222.8 232.6 L1224.4 232.5 L1226.1 232.4 L1227.7 232.2 L1229.4 231.3 L1231.1 231.2 L1232.7 231 L1234.4 230.9 L1236 230.4 L1237.7 229.7 L1239.3 229.6 L1241 230 L1242.7 229.8 L1244.3 229.8 L1246 228.6 L1247.6 228.8 L1249.3 229.2 L1251 228 L1252.6 228 L1254.3 227.6 L1255.9 228.5 L1257.6 228.1 L1259.2 227.7 L1260.8 227.8 L1262.5 227.6 L1264.1 227.8 L1265.8 227.8 L1267.4 227.6 L1269.1 227.1 L1270.8 227.1 L1272.4 226.9 L1274.1 226.8 L1275.7 225.4 L1277.4 225.8 L1279 225.6 L1280.7 225.4 L1282.4 225 L1284 224.8 L1285.7 224.8 L1287.3 224.5 L1289 224.3 L1290.7 223.6 L1292.3 223.2 L1294 223.2 L1295.6 222.6 L1297.3 222.9 L1298.9 222.6 L1300.5 222.1 L1302.2 221.7 L1303.8 222.1 L1305.5 222 L1307.1 222.8 L1308.8 222.3 L1310.5 221.3 L1312.1 221 L1313.8 220.5 L1315.4 220.3 L1317.1 220.1 L1318.7 220 L1320.4 219.4 L1322.1 219.7 L1323.7 219.4 L1325.4 219.7 L1327 218.2 L1328.7 218.5 L1330.3 218 L1332 217.2 L1333.6 217.5 L1335.2 216.9 L1336.9 217.3 L1338.5 218.4 L1340.1 217.9 L1341.8 217.9 L1343.4 217.5 L1345.1 216.2 L1346.8 216.6 L1348.5 216.4 L1350.1 216.3 L1351.7 215.5 L1353.4 214.8 L1355 216 L1356.7 215.7 L1358.4 215.1 L1360 214.4 L1361.7 214.4 L1363.4 213.5 L1365 214.1 L1366.7 213.6 L1368.3 213.2 L1369.9 212.8 L1371.6 212.7 L1373.3 212.5 L1375 212.1 L1376.6 212.3 L1378.3 211.9 L1379.9 211.5 L1381.5 210.9 L1383.2 211.4 L1384.8 211.3 L1386.4 210.9 L1388.1 209.6 L1389.7 209.7 L1391.4 210.1 L1393.1 209.6 L1394.9 209.8 L1396.7 209 L1398.5 209.1 L1400.3 208.8 L1402 207.4 L1403.7 207.7 L1405.3 207.7 L1406.9 207.3 L1408.3 206.9 L1409.6 207.7 L1411.9 206.6 L1413.8 206.4 L1415.5 205 L1416.9 204 L1418.3 204.1 L1419.5 204.2 L1421.3 203.1 L1422.6 203 L1424.4 203.3 L1425.8 203.1 L1427.4 203.8 L1429.1 204.2 L1430.9 205.6 L1432.7 206.8 L1434.4 207 L1436.1 206.9 L1437.8 207 L1439.5 207.4 L1441.2 208.3 L1442.8 208.3 L1444.3 209.9 L1445.5 210.1 L1446.6 211.8 L1447.7 213.9 L1448.7 215.8 L1449.7 216.6 L1450.6 218.6 L1451.4 220.9 L1452.2 222 L1452.8 222 L1453.4 224.1 L1453.9 226.6 L1454.5 227.2 L1455.2 230 L1455.6 230.1 L1456 232.7 L1456.5 233.4 L1457 235.4 L1457.4 237 L1457.9 237.2 L1458.5 239.1 L1459 241.5 L1459.5 242.5 L1460 244.7 L1460.5 246 L1460.9 248.5 L1461.4 249.5 L1461.9 250.9 L1462.3 253.1 L1462.8 255.1 L1463.2 256.2 L1463.6 258 L1464 259.7 L1464.5 261 L1464.9 262.3 L1465.3 264.6 L1465.8 266 L1466.3 267.2 L1466.8 269.6 L1467.3 271.2 L1467.8 272.6 L1468.4 273.8 L1469 275.5 L1469.6 277.5 L1470.2 279.1 L1470.8 280.2 L1471.3 281.6 L1471.9 283.6 L1472.5 285.1 L1473 286.9 L1473.5 287.5 L1474 289.6 L1474.6 292 L1475.2 293.6 L1475.7 295 L1476.2 296.9 L1476.6 297.7 L1477.1 299.5 L1477.6 302 L1478 302.2 L1478.5 303.5 L1479.2 306.3 L1479.9 307.6 L1480.7 309.2 L1481.4 310.5 L1482.2 313.1 L1483 313.9 L1483.9 315.4 L1484.7 316.3 L1485.7 318.7 L1486.7 319.9 L1487.8 321.3 L1489 322.7 L1490.4 322.9 L1492 322.7 L1493.7 322.9 L1495.5 323.5 L1497.2 324.2 L1498.9 323.3 L1500.6 323.5 L1502.3 323.3 L1504.1 323.3 L1505.8 322.4 L1507.4 322.6 L1508.8 322.8 L1511.1 322.8 L1513 323.4 L1514.8 324.9 L1515.8 326 L1516.9 327.6 L1518 328.2 L1519 330.6 L1519.9 331.6 L1520.7 332.5 L1521.4 334.3 L1521.8 335.4 L1522.2 337.3 L1523 340.1 L1523.5 340 L1524 341.5 L1524.7 343.7 L1525.4 344.9 L1526.1 346.9 L1526.8 347.7 L1527.5 349.7 L1528.1 350.3 L1528.8 352.4 L1529.3 354.7 L1529.8 356.7 L1530.3 358.6 L1530.8 359.6 L1531.2 360.8 L1531.5 362.6 L1531.9 363.6 L1532.3 366.5 L1532.6 368.3 L1533 369.1 L1533.4 371.7 L1533.7 372.3 L1534 374.5 L1534.4 375.7 L1534.7 376.9 L1535 379.3 L1535.3 380.4 L1535.7 382.9 L1536 383.9 L1536.3 385.8 L1536.7 387 L1537 388.6 L1537.4 389.8 L1537.7 391.7 L1538.1 393.3 L1538.5 394.9 L1538.9 396.8 L1539.3 399.9 L1539.5 400.3 L1539.8 401.6 L1540 403.5 L1540.2 404.8 L1540.5 405.6 L1540.7 407.7 L1541 409.4 L1541.2 410.8 L1541.5 413 L1541.8 414.3 L1542 416.4 L1542.3 417.9 L1542.6 420.7 L1542.8 421.9 L1543.1 423.9 L1543.3 425.6 L1543.6 427.4 L1543.8 428.8 L1544 430.8 L1544.3 432.2 L1544.5 432.8 L1544.7 435.3 L1544.9 436.5 L1545.1 439 L1545.3 440.5 L1545.5 441.9 L1545.8 442.6 L1546 444.2 L1546.2 446.3 L1546.4 448.3 L1546.6 449.6 L1546.8 452.6 L1547.1 453.9 L1547.3 455.2 L1547.5 456.5 L1547.8 458.3 L1548.1 460 L1548.3 461.6 L1548.6 463.5 L1548.9 465.6 L1549.1 466.3 L1549.4 468.6 L1549.7 470.8 L1550 471.7 L1550.3 473.7 L1550.6 475.3 L1550.9 476.7 L1551.2 479.1 L1551.5 480.4 L1551.8 482.5 L1552.1 483.9 L1552.4 485.2 L1552.7 486.8 L1553 488.1 L1553.4 489.4 L1553.8 492.3 L1554.2 493.9 L1554.6 496 L1555.1 496.6 L1555.5 499.2 L1555.9 501 L1556.4 502.3 L1556.8 502.9 L1557.2 505.1 L1557.6 506.4 L1557.9 507.8 L1558.3 509.2 L1558.6 510 L1559.4 513 L1559.9 515.1 L1560.5 517.3 L1561 518.2 L1561.5 520.5 L1562.2 521 L1562.9 522.8 L1563.7 524.8 L1564.5 525 L1565.8 527.1 L1567.2 528.2 L1568.6 528.3 L1570.6 527.7 L1572.5 526.6 L1573.3 524.7 L1574 523.3 L1574.7 521.6 L1575.5 520 L1576 517.6 L1576.5 516.4 L1577.1 515.2 L1577.6 514.3 L1578.3 512.9 L1579 510.8 L1579.4 509.2 L1579.7 508.6 L1580.1 506.7 L1580.5 505.5 L1580.9 503.5 L1581.4 502.5 L1581.8 500.4 L1582.3 499.3 L1582.7 497.6 L1583.2 496.3 L1583.6 493.7 L1584.1 491.4 L1584.5 490.3 L1585 488.4 L1585.3 486.6 L1585.7 484.7 L1586 484 L1586.4 481.4 L1586.7 480.2 L1587.1 479.2 L1587.4 477.1 L1587.8 475.6 L1588.1 474 L1588.5 472.3 L1588.9 470.8 L1589.2 469 L1589.6 467 L1589.9 464.9 L1590.3 463.7 L1590.6 462.1 L1590.9 461.1 L1591.3 460.2 L1591.6 458.9 L1592.3 456 L1592.9 454.2 L1593.5 452.4 L1594.1 450.7 L1594.7 449.9 L1595.3 448.4 L1596 446.8 L1596.6 444.7 L1597.3 442.5 L1597.9 441.6 L1598.6 441 L1599.3 439.1 L1600 437.7 L1600.7 436.1 L1601.4 434.9 L1602.2 433.3 L1602.9 432.5 L1603.6 430.4 L1604.3 428.7 L1605 427.8 L1605.7 426.1 L1606.4 424.5 L1607.1 422.8 L1607.8 420.9 L1608.5 419.5 L1609.2 418.1 L1610 416.5 L1610.7 414.4 L1611.4 414.3 L1612.5 412.1 L1613.6 410.6 L1614.6 409.5 L1615.8 408.3 L1617.1 407.1 L1618.8 406.4 L1620.1 406.1 L1621.6 405 L1623.2 404.6 L1624.9 403.2 L1626.6 403.3 L1628.4 402 L1630.2 402 L1631.9 400.9 L1633.6 400.3 L1635.3 399.4 L1636.9 398.7 L1638.6 398.5 L1640.2 397.7 L1641.9 397.3 L1643.5 397.4 L1645.2 396.2 L1646.8 395.9 L1648.5 395.6 L1650.1 395.1 L1651.8 395.1 L1653.4 395 L1655.1 395.2 L1656.7 394.4 L1658.4 394.5 L1660 394.6 L1661.7 395.5 L1663.3 395.1 L1664.8 395.9 L1666.3 396.9 L1667.8 397.7 L1669.3 398.1 L1670.8 398.8 L1672.3 399.5 L1673.8 401 L1675.3 402.3 L1676.8 402.9 L1678.2 404.8 L1679.6 405.8 L1681 406.7 L1682.5 407.8 L1683.9 409.4 L1685.2 410.3 L1686.6 411.8 L1688 412.6 L1689.3 414.2 L1690.6 414.2 L1691.9 415.1 L1693.7 417.1 L1695.4 417.5 L1697.1 418.1 L1698.8 417.5 L1700.5 418.2 L1702.1 419 L1703.8 420 L1705 420.4 L1706.2 422 L1707.4 422.9 L1708.6 423.4 L1709.8 426 L1710.9 426.7 L1712.1 428.4 L1713.3 429 L1714.5 430.1 L1715.7 432 L1716.9 433.2 L1718.1 433.7 L1719.3 435 L1720.5 435.4 L1721.6 436.1 L1722.8 438.3 L1724 438.7 L1725.2 440.5 L1726.4 442.1 L1727.6 443.2 L1728.5 444.8 L1729.4 445.7 L1730.4 446.8 L1731.3 448 L1732.2 449.5 L1733.1 450.9 L1734.1 451.8 L1735 453.5 L1735.9 454.9 L1736.8 457.7 L1737.8 458.7 L1738.7 459.3 L1739.6 461.1 L1740.5 461.6 L1741.3 463.5 L1742.2 465.7 L1743 466.6 L1743.9 468.4 L1744.7 469.3 L1745.6 470.9 L1746.4 472.4 L1747.3 472.7 L1748.1 474.5 L1749 476.9 L1749.8 477.4 L1750.7 479.3 L1751.5 480.8 L1752.6 481.6 L1753.7 483.4 L1754.7 484.7 L1755.8 485.7 L1756.9 487.5 L1758 488.8 L1759.1 489.4 L1760.2 490.6 L1761.2 491.2 L1762.3 492.2 L1763.4 492.9 L1765.1 492.9 L1766.8 492.3 L1768.5 492.7 L1770.2 492.2 L1771.9 490.5 L1773.6 489.8 L1775.3 488.7 L1776.8 487.3 L1778.4 488.5 L1780 487.6 L1781.6 486.3 L1783.2 486.5 L1784.6 485.8 L1786 485.2 L1787.2 483.9 L1788.2 482.5 L1789.1 481.3 L1789.9 479 L1790.6 477.2 L1791.2 474.9 L1791.8 473.1 L1792.5 472.2 L1793.2 471.1 L1794.5 468.8 L1795.8 468.6 L1797.2 468.5 L1799.1 467 L1800.5 466.8 L1802.1 467.3 L1803.8 466.1 L1805.6 466.1 L1807.4 465.9 L1809.2 465.2 L1811 464.6 L1812.5 464.1 L1814 463.3 L1815.5 462.5 L1817 461 L1818.4 460.7 L1819.9 459.6 L1821.4 459.7 L1822.9 459.5 L1824.6 458.4 L1826.3 456.3 L1828 456.6 L1829.7 455.7 L1831.4 454.7 L1833.1 454 L1834.8 454.6 L1836.5 454 L1838.2 454.3 L1839.9 454.7 L1841.6 455.3 L1843.3 454.2 L1845 455.6 L1846.7 454.9 L1848.2 454.7 L1849.7 454.6 L1851.2 454.1 L1852.6 452.4 L1854.1 452.6 L1855.6 451.7 L1857.1 450.6 L1858.6 449.9 L1860.1 448.6 L1861.6 448.5 L1863.1 448 L1864.6 446.1 L1866.1 445 L1867.6 443.6 L1869.1 442.8 L1870.6 441.9 L1872.3 441.5 L1874.1 441.7 L1875.9 441.1 L1877.7 440.5 L1879.4 439.2 L1881 439.1 L1882.5 437.7 L1883.7 436.6 L1884.9 436.2 L1886.1 434.9 L1887.2 434.7 L1888.2 432.7 L1889.1 431 L1890 429.9 L1890.8 427.7 L1891.4 426.8 L1891.9 425.8 L1892.3 423.6 L1892.7 421.7 L1893 420.5 L1893.3 417.9 L1893.6 416.6 L1894 414.4 L1894.4 412.8 L1894.8 410.9 L1895.1 409.8 L1895.5 408.3 L1895.9 407.1 L1896.3 404.7 L1896.7 403.1 L1897.1 400.6 L1897.6 399.2 L1898 398 L1898.4 395.9 L1898.8 394.8 L1899.2 393.2 L1899.8 391.9 L1900.3 390.4 L1900.8 388.6 L1901.3 387.6 L1901.9 385.8 L1902.5 384.5 L1903.1 383.1 L1903.9 381.4 L1904.5 380 L1905.2 379 L1905.9 376.5 L1906.7 374.9 L1907.5 372.5 L1908.3 371.7 L1909.1 369.4 L1909.9 367.8 L1910.6 366.2 L1911.3 365.1 L1911.9 363.6 L1912.5 362.4 L1913.6 360.2 L1914.4 358.2 L1915.1 356.8 L1915.6 355.4 L1916 354.9" fill="none" stroke="#0000ff" stroke-width="7.8" stroke-linejoin="round" stroke-linecap="butt" shape-rendering="crispEdges"/>
</g>
<line x1="1495" y1="201.5" x2="1495" y2="1090" stroke="#000" stroke-width="5.5" stroke-linecap="round" stroke-dasharray="19 26.5"/>
<line x1="1569" y1="316.5" x2="1569" y2="1070" stroke="#000" stroke-width="5.5" stroke-linecap="round" stroke-dasharray="19 26.5"/>
<line x1="1768" y1="316.5" x2="1768" y2="1160" stroke="#000" stroke-width="5.5" stroke-linecap="round" stroke-dasharray="19 26.5"/>
<text transform="translate(84.40 1401.59) scale(0.9418 1)" font-size="79.43" font-family="'Liberation Serif','Times New Roman',serif" filter="url(#crisp)">4000</text>
<text transform="translate(374.57 1401.59) scale(0.9511 1)" font-size="79.43" font-family="'Liberation Serif','Times New Roman',serif" filter="url(#crisp)">3500</text>
<text transform="translate(668.14 1400.81) scale(0.9776 1)" font-size="77.64" font-family="'Liberation Serif','Times New Roman',serif" filter="url(#crisp)">3000</text>
<text transform="translate(959.34 1400.81) scale(0.9749 1)" font-size="77.64" font-family="'Liberation Serif','Times New Roman',serif" filter="url(#crisp)">2500</text>
<text transform="translate(1251.53 1400.78) scale(0.9596 1)" font-size="79.16" font-family="'Liberation Serif','Times New Roman',serif" filter="url(#crisp)">2000</text>
<text transform="translate(1547.46 1400.78) scale(0.9322 1)" font-size="79.16" font-family="'Liberation Serif','Times New Roman',serif" filter="url(#crisp)">1500</text>
<text transform="translate(1838.18 1400.81) scale(0.9616 1)" font-size="77.64" font-family="'Liberation Serif','Times New Roman',serif" filter="url(#crisp)">1000</text>
<text transform="translate(777.00 1501.45) scale(1.0022 1)" font-size="81.13" font-family="'Liberation Serif','Times New Roman',serif" filter="url(#crisp)">Wavenumber (cm</text>
<text transform="translate(1353.83 1464.60) scale(0.9049 1)" font-size="57.04" font-family="'Liberation Serif','Times New Roman',serif" filter="url(#crisp)">-1</text>
<text transform="translate(1397.29 1500.97) scale(1.0683 1)" font-size="83.38" font-family="'Liberation Serif','Times New Roman',serif" filter="url(#crisp)">)</text>
<text transform="translate(83.07 764.39) rotate(-90) scale(0.9956 1)" font-size="82.66" font-family="'Liberation Serif','Times New Roman',serif" filter="url(#crisp)">T (%)</text>
<text transform="translate(1374.28 146.21) scale(0.9069 1)" font-size="74.31" font-family="'Liberation Serif','Times New Roman',serif" filter="url(#crisp)">1714</text>
<text transform="translate(1535.35 266.03) scale(0.9262 1)" font-size="74.29" font-family="'Liberation Serif','Times New Roman',serif" filter="url(#crisp)">1586</text>
<text transform="translate(1728.54 235.99) scale(0.8974 1)" font-size="75.52" font-family="'Liberation Serif','Times New Roman',serif" filter="url(#crisp)">1246</text>
<line x1="229" y1="926" x2="396" y2="926" stroke="#0000ff" stroke-width="8" stroke-linecap="round"/>
<text transform="translate(414.84 951.01) scale(0.9415 1)" font-size="79.44" font-family="'Liberation Serif','Times New Roman',serif" filter="url(#crisp)">C800-M450</text>
<line x1="229" y1="1018.1" x2="396" y2="1018.1" stroke="#00ff00" stroke-width="8" stroke-linecap="round"/>
<text transform="translate(414.84 1043.01) scale(0.9415 1)" font-size="79.44" font-family="'Liberation Serif','Times New Roman',serif" filter="url(#crisp)">C800-M400</text>
<line x1="229" y1="1110.2" x2="396" y2="1110.2" stroke="#ff0000" stroke-width="8" stroke-linecap="round"/>
<text transform="translate(414.84 1135.01) scale(0.9415 1)" font-size="79.44" font-family="'Liberation Serif','Times New Roman',serif" filter="url(#crisp)">C800-M350</text>
<line x1="229" y1="1202.3" x2="396" y2="1202.3" stroke="#000" stroke-width="8" stroke-linecap="round"/>
<text transform="translate(414.82 1227.01) scale(0.9454 1)" font-size="79.44" font-family="'Liberation Serif','Times New Roman',serif" filter="url(#crisp)">C800</text>
</svg>
</body></html>
